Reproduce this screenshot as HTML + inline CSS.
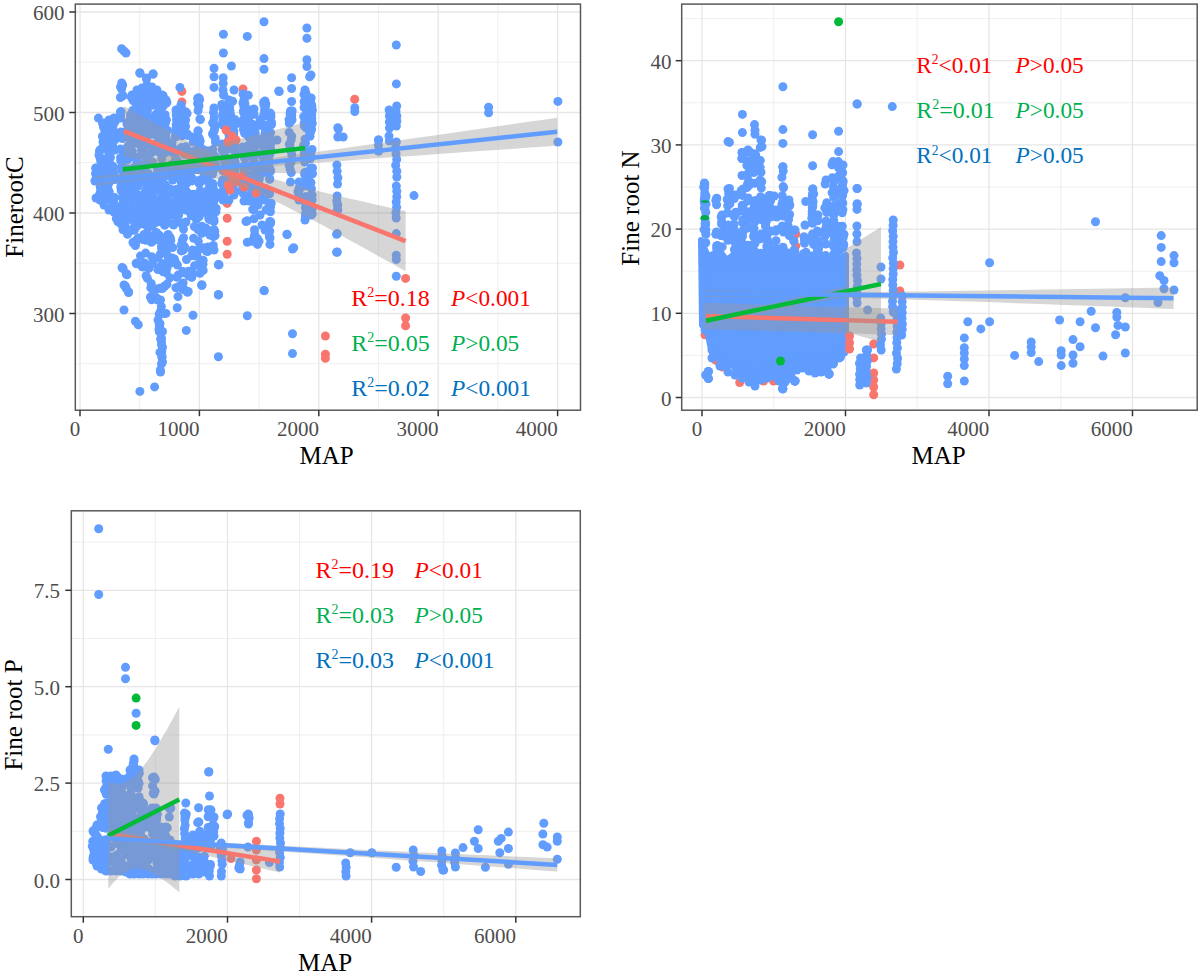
<!DOCTYPE html>
<html><head><meta charset="utf-8"><style>
html,body{margin:0;padding:0;background:#fff;}
svg{display:block;}
.tl{font-family:"Liberation Serif",serif;font-size:21px;fill:#4D4D4D;}
.at{font-family:"Liberation Serif",serif;font-size:25px;fill:#000;}
.an{font-family:"Liberation Serif",serif;font-size:24px;}
</style></head><body>
<svg width="1200" height="973" viewBox="0 0 1200 973">
<rect width="1200" height="973" fill="#fff"/>
<rect x="75.3" y="4.1" width="505.2" height="406.1" fill="#fff"/>
<line x1="139.7" y1="4.1" x2="139.7" y2="410.2" stroke="#EBEBEB" stroke-width="0.8"/>
<line x1="259.1" y1="4.1" x2="259.1" y2="410.2" stroke="#EBEBEB" stroke-width="0.8"/>
<line x1="378.5" y1="4.1" x2="378.5" y2="410.2" stroke="#EBEBEB" stroke-width="0.8"/>
<line x1="497.9" y1="4.1" x2="497.9" y2="410.2" stroke="#EBEBEB" stroke-width="0.8"/>
<line x1="75.3" y1="363.7" x2="580.5" y2="363.7" stroke="#EBEBEB" stroke-width="0.8"/>
<line x1="75.3" y1="263.2" x2="580.5" y2="263.2" stroke="#EBEBEB" stroke-width="0.8"/>
<line x1="75.3" y1="162.7" x2="580.5" y2="162.7" stroke="#EBEBEB" stroke-width="0.8"/>
<line x1="75.3" y1="62.2" x2="580.5" y2="62.2" stroke="#EBEBEB" stroke-width="0.8"/>
<line x1="80" y1="4.1" x2="80" y2="410.2" stroke="#E6E6E6" stroke-width="1.3"/>
<line x1="199.4" y1="4.1" x2="199.4" y2="410.2" stroke="#E6E6E6" stroke-width="1.3"/>
<line x1="318.8" y1="4.1" x2="318.8" y2="410.2" stroke="#E6E6E6" stroke-width="1.3"/>
<line x1="438.2" y1="4.1" x2="438.2" y2="410.2" stroke="#E6E6E6" stroke-width="1.3"/>
<line x1="557.6" y1="4.1" x2="557.6" y2="410.2" stroke="#E6E6E6" stroke-width="1.3"/>
<line x1="75.3" y1="313.5" x2="580.5" y2="313.5" stroke="#E6E6E6" stroke-width="1.3"/>
<line x1="75.3" y1="213" x2="580.5" y2="213" stroke="#E6E6E6" stroke-width="1.3"/>
<line x1="75.3" y1="112.5" x2="580.5" y2="112.5" stroke="#E6E6E6" stroke-width="1.3"/>
<line x1="75.3" y1="12" x2="580.5" y2="12" stroke="#E6E6E6" stroke-width="1.3"/>
<g fill="#F8766D"><circle cx="354.7" cy="99.2" r="4.5"/><circle cx="181.9" cy="91.4" r="4.5"/><circle cx="181.9" cy="102" r="4.5"/><circle cx="243" cy="89" r="4.5"/><circle cx="227.2" cy="203.4" r="4.5"/><circle cx="227.2" cy="218.2" r="4.5"/><circle cx="227.2" cy="241.2" r="4.5"/><circle cx="227.2" cy="254.2" r="4.5"/><circle cx="405.6" cy="278.4" r="4.5"/><circle cx="405.6" cy="318" r="4.5"/><circle cx="405.6" cy="325.7" r="4.5"/><circle cx="325.4" cy="336" r="4.5"/><circle cx="325.4" cy="354.3" r="4.5"/><circle cx="325.4" cy="358.2" r="4.5"/><circle cx="261" cy="194" r="4.5"/><circle cx="261" cy="200" r="4.5"/></g>
<g fill="#619CFF"><circle cx="96" cy="168" r="4.5"/><circle cx="96" cy="198" r="4.5"/><circle cx="95.7" cy="168.3" r="4.5"/><circle cx="97" cy="177" r="4.5"/><circle cx="95.6" cy="173.8" r="4.5"/><circle cx="96.2" cy="172.9" r="4.5"/><circle cx="94.9" cy="181" r="4.5"/><circle cx="96.2" cy="173.2" r="4.5"/><circle cx="96.2" cy="178.6" r="4.5"/><circle cx="97.4" cy="170.7" r="4.5"/><circle cx="100" cy="150" r="4.5"/><circle cx="100" cy="200" r="4.5"/><circle cx="101.4" cy="170.6" r="4.5"/><circle cx="100" cy="157.4" r="4.5"/><circle cx="100.7" cy="159.5" r="4.5"/><circle cx="99.5" cy="151.2" r="4.5"/><circle cx="99.5" cy="198.4" r="4.5"/><circle cx="101.4" cy="187.2" r="4.5"/><circle cx="98.5" cy="197" r="4.5"/><circle cx="101.1" cy="188.5" r="4.5"/><circle cx="99" cy="155" r="4.5"/><circle cx="99.7" cy="194.3" r="4.5"/><circle cx="100.2" cy="186.8" r="4.5"/><circle cx="99.2" cy="176.2" r="4.5"/><circle cx="100.6" cy="191.2" r="4.5"/><circle cx="100.9" cy="161.6" r="4.5"/><circle cx="104" cy="123" r="4.5"/><circle cx="104" cy="205" r="4.5"/><circle cx="105.1" cy="140.7" r="4.5"/><circle cx="104.9" cy="168.5" r="4.5"/><circle cx="103.1" cy="171.3" r="4.5"/><circle cx="104.1" cy="201.6" r="4.5"/><circle cx="102.6" cy="136.5" r="4.5"/><circle cx="105.4" cy="191.2" r="4.5"/><circle cx="103" cy="141.8" r="4.5"/><circle cx="104.1" cy="135.9" r="4.5"/><circle cx="103.5" cy="127" r="4.5"/><circle cx="104.6" cy="129.4" r="4.5"/><circle cx="105.5" cy="198.5" r="4.5"/><circle cx="104.9" cy="186.3" r="4.5"/><circle cx="103.6" cy="178.7" r="4.5"/><circle cx="104.8" cy="162.4" r="4.5"/><circle cx="102.7" cy="174.3" r="4.5"/><circle cx="103.5" cy="173" r="4.5"/><circle cx="103.8" cy="201.1" r="4.5"/><circle cx="103.1" cy="186" r="4.5"/><circle cx="104.6" cy="168.6" r="4.5"/><circle cx="102.7" cy="136.5" r="4.5"/><circle cx="105.4" cy="141.9" r="4.5"/><circle cx="103" cy="146.6" r="4.5"/><circle cx="104.1" cy="165.6" r="4.5"/><circle cx="102.5" cy="123.3" r="4.5"/><circle cx="109" cy="120" r="4.5"/><circle cx="109" cy="210" r="4.5"/><circle cx="109" cy="136.6" r="4.5"/><circle cx="109.3" cy="191.9" r="4.5"/><circle cx="107.8" cy="165.5" r="4.5"/><circle cx="108.7" cy="191.1" r="4.5"/><circle cx="110.4" cy="157.5" r="4.5"/><circle cx="108.2" cy="199.1" r="4.5"/><circle cx="107.6" cy="149.7" r="4.5"/><circle cx="108.7" cy="136" r="4.5"/><circle cx="109.5" cy="166.6" r="4.5"/><circle cx="108.2" cy="157.2" r="4.5"/><circle cx="109.6" cy="149.2" r="4.5"/><circle cx="107.7" cy="161.4" r="4.5"/><circle cx="108.1" cy="175.9" r="4.5"/><circle cx="108.1" cy="132.2" r="4.5"/><circle cx="110.2" cy="149.7" r="4.5"/><circle cx="108.4" cy="168.4" r="4.5"/><circle cx="109.6" cy="180.4" r="4.5"/><circle cx="109.9" cy="143.4" r="4.5"/><circle cx="108.8" cy="152.8" r="4.5"/><circle cx="109.1" cy="171.7" r="4.5"/><circle cx="109.4" cy="126.1" r="4.5"/><circle cx="108.6" cy="183.8" r="4.5"/><circle cx="107.6" cy="187.2" r="4.5"/><circle cx="109.6" cy="156.2" r="4.5"/><circle cx="108.8" cy="143.8" r="4.5"/><circle cx="109.7" cy="163.2" r="4.5"/><circle cx="114" cy="118" r="4.5"/><circle cx="114" cy="212" r="4.5"/><circle cx="113.3" cy="120.8" r="4.5"/><circle cx="113.5" cy="204.6" r="4.5"/><circle cx="114.5" cy="176.8" r="4.5"/><circle cx="115.3" cy="120.9" r="4.5"/><circle cx="114.3" cy="135.7" r="4.5"/><circle cx="113.7" cy="135.1" r="4.5"/><circle cx="113.5" cy="202.7" r="4.5"/><circle cx="114.7" cy="197.6" r="4.5"/><circle cx="112.7" cy="146.3" r="4.5"/><circle cx="114.9" cy="121.8" r="4.5"/><circle cx="113.1" cy="125.7" r="4.5"/><circle cx="115" cy="139.8" r="4.5"/><circle cx="113.8" cy="119.3" r="4.5"/><circle cx="112.8" cy="166.3" r="4.5"/><circle cx="114.9" cy="150.1" r="4.5"/><circle cx="113.5" cy="121.8" r="4.5"/><circle cx="112.8" cy="132" r="4.5"/><circle cx="113.1" cy="171.6" r="4.5"/><circle cx="113.6" cy="209.9" r="4.5"/><circle cx="113.4" cy="198.5" r="4.5"/><circle cx="112.8" cy="167.6" r="4.5"/><circle cx="114.1" cy="179.8" r="4.5"/><circle cx="113.7" cy="167.3" r="4.5"/><circle cx="114.8" cy="132.3" r="4.5"/><circle cx="114.1" cy="173.3" r="4.5"/><circle cx="114.8" cy="133.4" r="4.5"/><circle cx="113.7" cy="120.3" r="4.5"/><circle cx="121.7" cy="83" r="4.5"/><circle cx="121.7" cy="215" r="4.5"/><circle cx="122.2" cy="197.6" r="4.5"/><circle cx="121.3" cy="190.7" r="4.5"/><circle cx="122.2" cy="85.2" r="4.5"/><circle cx="121.6" cy="89" r="4.5"/><circle cx="121.1" cy="188.7" r="4.5"/><circle cx="120.6" cy="157.6" r="4.5"/><circle cx="120.4" cy="97.5" r="4.5"/><circle cx="123.1" cy="95.7" r="4.5"/><circle cx="120.7" cy="207.1" r="4.5"/><circle cx="121.1" cy="111.6" r="4.5"/><circle cx="120.5" cy="148.9" r="4.5"/><circle cx="120.4" cy="112" r="4.5"/><circle cx="120.9" cy="181.4" r="4.5"/><circle cx="120.7" cy="160.6" r="4.5"/><circle cx="120.9" cy="214.2" r="4.5"/><circle cx="123.2" cy="204.9" r="4.5"/><circle cx="122.9" cy="156.1" r="4.5"/><circle cx="123" cy="167.5" r="4.5"/><circle cx="120.7" cy="179.7" r="4.5"/><circle cx="122.7" cy="84.9" r="4.5"/><circle cx="120.8" cy="186.5" r="4.5"/><circle cx="122.5" cy="157" r="4.5"/><circle cx="120.6" cy="118" r="4.5"/><circle cx="120.9" cy="212.4" r="4.5"/><circle cx="120.9" cy="131.9" r="4.5"/><circle cx="122.3" cy="170.5" r="4.5"/><circle cx="121.9" cy="168.9" r="4.5"/><circle cx="122.8" cy="203.6" r="4.5"/><circle cx="120.5" cy="87" r="4.5"/><circle cx="122.9" cy="203.2" r="4.5"/><circle cx="121.3" cy="135.8" r="4.5"/><circle cx="122.3" cy="138.6" r="4.5"/><circle cx="120.5" cy="115.9" r="4.5"/><circle cx="121.1" cy="157.7" r="4.5"/><circle cx="120.7" cy="179.2" r="4.5"/><circle cx="123.1" cy="133.8" r="4.5"/><circle cx="121.9" cy="167" r="4.5"/><circle cx="122.6" cy="166" r="4.5"/><circle cx="121.7" cy="178.1" r="4.5"/><circle cx="127" cy="123" r="4.5"/><circle cx="127" cy="215" r="4.5"/><circle cx="125.6" cy="209.5" r="4.5"/><circle cx="128.2" cy="186.8" r="4.5"/><circle cx="126.1" cy="180.6" r="4.5"/><circle cx="125.6" cy="159.6" r="4.5"/><circle cx="126.1" cy="174.6" r="4.5"/><circle cx="126.3" cy="131.5" r="4.5"/><circle cx="127.9" cy="146.1" r="4.5"/><circle cx="127.2" cy="124.5" r="4.5"/><circle cx="127.2" cy="195.6" r="4.5"/><circle cx="127.9" cy="153.2" r="4.5"/><circle cx="125.9" cy="179.1" r="4.5"/><circle cx="126.4" cy="149.3" r="4.5"/><circle cx="126.1" cy="159.2" r="4.5"/><circle cx="127.5" cy="159.9" r="4.5"/><circle cx="127.4" cy="190" r="4.5"/><circle cx="127.9" cy="175.5" r="4.5"/><circle cx="128.5" cy="169.2" r="4.5"/><circle cx="127.1" cy="183.6" r="4.5"/><circle cx="128.4" cy="187.6" r="4.5"/><circle cx="128.3" cy="137.6" r="4.5"/><circle cx="126.8" cy="187.7" r="4.5"/><circle cx="127.7" cy="199.4" r="4.5"/><circle cx="126.3" cy="152" r="4.5"/><circle cx="126.7" cy="159.1" r="4.5"/><circle cx="125.8" cy="158.9" r="4.5"/><circle cx="127.4" cy="191" r="4.5"/><circle cx="126.2" cy="180.1" r="4.5"/><circle cx="132" cy="95" r="4.5"/><circle cx="132" cy="218" r="4.5"/><circle cx="132.8" cy="114.1" r="4.5"/><circle cx="130.5" cy="114.7" r="4.5"/><circle cx="132.5" cy="207.3" r="4.5"/><circle cx="131.7" cy="133.4" r="4.5"/><circle cx="132.4" cy="133.9" r="4.5"/><circle cx="130.6" cy="125.2" r="4.5"/><circle cx="132.3" cy="151.3" r="4.5"/><circle cx="131.5" cy="143.2" r="4.5"/><circle cx="130.9" cy="189.4" r="4.5"/><circle cx="131.6" cy="179.9" r="4.5"/><circle cx="132.2" cy="205.7" r="4.5"/><circle cx="132.9" cy="111.3" r="4.5"/><circle cx="131.9" cy="96.4" r="4.5"/><circle cx="132.8" cy="123.4" r="4.5"/><circle cx="133.4" cy="122.7" r="4.5"/><circle cx="132" cy="155.5" r="4.5"/><circle cx="133" cy="168.2" r="4.5"/><circle cx="133.1" cy="134.3" r="4.5"/><circle cx="130.8" cy="117.8" r="4.5"/><circle cx="130.6" cy="182" r="4.5"/><circle cx="132.6" cy="187.8" r="4.5"/><circle cx="132.8" cy="110.4" r="4.5"/><circle cx="130.7" cy="176.1" r="4.5"/><circle cx="130.5" cy="136.5" r="4.5"/><circle cx="132.3" cy="175.2" r="4.5"/><circle cx="132.3" cy="211.8" r="4.5"/><circle cx="133.4" cy="133.2" r="4.5"/><circle cx="131.4" cy="97.6" r="4.5"/><circle cx="130.9" cy="148.9" r="4.5"/><circle cx="132.4" cy="124" r="4.5"/><circle cx="130.8" cy="179.2" r="4.5"/><circle cx="132.5" cy="156.5" r="4.5"/><circle cx="130.9" cy="119.2" r="4.5"/><circle cx="131.3" cy="199.9" r="4.5"/><circle cx="133.3" cy="100.8" r="4.5"/><circle cx="133.3" cy="207.3" r="4.5"/><circle cx="137" cy="90" r="4.5"/><circle cx="137" cy="220" r="4.5"/><circle cx="137.9" cy="120.3" r="4.5"/><circle cx="138.4" cy="195.1" r="4.5"/><circle cx="135.9" cy="94.7" r="4.5"/><circle cx="136.6" cy="165.3" r="4.5"/><circle cx="135.6" cy="214.1" r="4.5"/><circle cx="137.5" cy="157.2" r="4.5"/><circle cx="137" cy="103.6" r="4.5"/><circle cx="137.7" cy="186.4" r="4.5"/><circle cx="135.6" cy="194.9" r="4.5"/><circle cx="136.6" cy="211.3" r="4.5"/><circle cx="136.5" cy="117.5" r="4.5"/><circle cx="136.1" cy="133.1" r="4.5"/><circle cx="135.7" cy="111.1" r="4.5"/><circle cx="136.9" cy="161.8" r="4.5"/><circle cx="137.2" cy="107.2" r="4.5"/><circle cx="135.6" cy="109.1" r="4.5"/><circle cx="138.2" cy="107.7" r="4.5"/><circle cx="137.6" cy="162.2" r="4.5"/><circle cx="137.3" cy="211.8" r="4.5"/><circle cx="136.3" cy="181.3" r="4.5"/><circle cx="137.1" cy="137.9" r="4.5"/><circle cx="136.7" cy="116.3" r="4.5"/><circle cx="135.8" cy="209.8" r="4.5"/><circle cx="137.4" cy="112.1" r="4.5"/><circle cx="137.9" cy="114" r="4.5"/><circle cx="137.5" cy="166.3" r="4.5"/><circle cx="137.9" cy="143.6" r="4.5"/><circle cx="138.4" cy="183.5" r="4.5"/><circle cx="136.8" cy="105.7" r="4.5"/><circle cx="136.3" cy="107.2" r="4.5"/><circle cx="137.1" cy="194.8" r="4.5"/><circle cx="137.7" cy="172.8" r="4.5"/><circle cx="136.8" cy="126.2" r="4.5"/><circle cx="137.9" cy="177.3" r="4.5"/><circle cx="137.5" cy="162.6" r="4.5"/><circle cx="137.9" cy="166.6" r="4.5"/><circle cx="136.3" cy="138.6" r="4.5"/><circle cx="136.4" cy="127.9" r="4.5"/><circle cx="142" cy="88" r="4.5"/><circle cx="142" cy="220" r="4.5"/><circle cx="143.2" cy="181.9" r="4.5"/><circle cx="142.3" cy="147.5" r="4.5"/><circle cx="142" cy="101.9" r="4.5"/><circle cx="141.9" cy="165.6" r="4.5"/><circle cx="141.6" cy="155" r="4.5"/><circle cx="143.5" cy="208.5" r="4.5"/><circle cx="140.7" cy="212.9" r="4.5"/><circle cx="142.9" cy="195.2" r="4.5"/><circle cx="142.9" cy="115.5" r="4.5"/><circle cx="140.9" cy="172.7" r="4.5"/><circle cx="143" cy="101.5" r="4.5"/><circle cx="140.5" cy="213" r="4.5"/><circle cx="143.2" cy="122.5" r="4.5"/><circle cx="143" cy="127.4" r="4.5"/><circle cx="143" cy="89.7" r="4.5"/><circle cx="142.3" cy="117.7" r="4.5"/><circle cx="142.4" cy="91.3" r="4.5"/><circle cx="142.4" cy="101.2" r="4.5"/><circle cx="141.8" cy="97.2" r="4.5"/><circle cx="141.7" cy="108.6" r="4.5"/><circle cx="141.5" cy="150" r="4.5"/><circle cx="142.5" cy="171.6" r="4.5"/><circle cx="142.1" cy="200.6" r="4.5"/><circle cx="141.7" cy="107" r="4.5"/><circle cx="142.6" cy="135.1" r="4.5"/><circle cx="143.3" cy="139.5" r="4.5"/><circle cx="140.5" cy="133.4" r="4.5"/><circle cx="143.4" cy="151.1" r="4.5"/><circle cx="143" cy="136.6" r="4.5"/><circle cx="142.3" cy="98" r="4.5"/><circle cx="141.1" cy="101.7" r="4.5"/><circle cx="141.7" cy="130.7" r="4.5"/><circle cx="142.2" cy="173.6" r="4.5"/><circle cx="141.2" cy="123.4" r="4.5"/><circle cx="140.6" cy="104.1" r="4.5"/><circle cx="141.6" cy="206.7" r="4.5"/><circle cx="141.1" cy="141.8" r="4.5"/><circle cx="140.5" cy="165.7" r="4.5"/><circle cx="141.8" cy="131.7" r="4.5"/><circle cx="147" cy="85" r="4.5"/><circle cx="147" cy="222" r="4.5"/><circle cx="146.7" cy="122.4" r="4.5"/><circle cx="146.7" cy="110.3" r="4.5"/><circle cx="147.6" cy="212.8" r="4.5"/><circle cx="148.2" cy="135.2" r="4.5"/><circle cx="145.5" cy="190.3" r="4.5"/><circle cx="146.9" cy="159.7" r="4.5"/><circle cx="147.5" cy="196.2" r="4.5"/><circle cx="147.1" cy="144.5" r="4.5"/><circle cx="145.9" cy="90.7" r="4.5"/><circle cx="146" cy="106.2" r="4.5"/><circle cx="148.3" cy="162.7" r="4.5"/><circle cx="145.6" cy="128.6" r="4.5"/><circle cx="146.7" cy="199.3" r="4.5"/><circle cx="146.7" cy="159.9" r="4.5"/><circle cx="146.3" cy="129.3" r="4.5"/><circle cx="145.7" cy="192.3" r="4.5"/><circle cx="147" cy="185.2" r="4.5"/><circle cx="147.2" cy="97.2" r="4.5"/><circle cx="146.3" cy="128.9" r="4.5"/><circle cx="147.8" cy="132.5" r="4.5"/><circle cx="148.4" cy="194.1" r="4.5"/><circle cx="147.6" cy="157.8" r="4.5"/><circle cx="147.6" cy="131.4" r="4.5"/><circle cx="145.8" cy="202.6" r="4.5"/><circle cx="146.9" cy="216.3" r="4.5"/><circle cx="147.7" cy="163.7" r="4.5"/><circle cx="146.8" cy="179" r="4.5"/><circle cx="146.2" cy="133.4" r="4.5"/><circle cx="146.5" cy="197.1" r="4.5"/><circle cx="148.3" cy="98.3" r="4.5"/><circle cx="145.6" cy="133.3" r="4.5"/><circle cx="147.5" cy="145" r="4.5"/><circle cx="147.8" cy="217.6" r="4.5"/><circle cx="147.5" cy="176.3" r="4.5"/><circle cx="145.9" cy="165.2" r="4.5"/><circle cx="147.4" cy="111.7" r="4.5"/><circle cx="145.6" cy="177.9" r="4.5"/><circle cx="148.5" cy="173.6" r="4.5"/><circle cx="146.1" cy="204.2" r="4.5"/><circle cx="146.5" cy="131.8" r="4.5"/><circle cx="152" cy="87" r="4.5"/><circle cx="152" cy="222" r="4.5"/><circle cx="152.9" cy="194.2" r="4.5"/><circle cx="153.3" cy="206.4" r="4.5"/><circle cx="150.5" cy="117.9" r="4.5"/><circle cx="152.2" cy="118.3" r="4.5"/><circle cx="153.1" cy="186.4" r="4.5"/><circle cx="152.8" cy="214.4" r="4.5"/><circle cx="152.6" cy="217.1" r="4.5"/><circle cx="151.9" cy="105.3" r="4.5"/><circle cx="152" cy="215.1" r="4.5"/><circle cx="152.3" cy="130.5" r="4.5"/><circle cx="150.8" cy="105.1" r="4.5"/><circle cx="150.9" cy="182.9" r="4.5"/><circle cx="151.5" cy="145.7" r="4.5"/><circle cx="153.4" cy="131.8" r="4.5"/><circle cx="152.5" cy="134.1" r="4.5"/><circle cx="151.7" cy="144.6" r="4.5"/><circle cx="151.8" cy="102.8" r="4.5"/><circle cx="152.4" cy="162.1" r="4.5"/><circle cx="150.8" cy="218.5" r="4.5"/><circle cx="153.5" cy="124.1" r="4.5"/><circle cx="151.5" cy="192.4" r="4.5"/><circle cx="152" cy="163.5" r="4.5"/><circle cx="152.8" cy="188.5" r="4.5"/><circle cx="151.3" cy="152.8" r="4.5"/><circle cx="152.9" cy="206.2" r="4.5"/><circle cx="153.1" cy="195" r="4.5"/><circle cx="152.5" cy="90.5" r="4.5"/><circle cx="151.6" cy="182.7" r="4.5"/><circle cx="151.2" cy="95.5" r="4.5"/><circle cx="152.3" cy="190.7" r="4.5"/><circle cx="153.5" cy="185.3" r="4.5"/><circle cx="151.8" cy="91.3" r="4.5"/><circle cx="152.5" cy="207.5" r="4.5"/><circle cx="152.1" cy="163" r="4.5"/><circle cx="150.8" cy="130.3" r="4.5"/><circle cx="152.3" cy="195.4" r="4.5"/><circle cx="151.5" cy="199.3" r="4.5"/><circle cx="152.3" cy="161.9" r="4.5"/><circle cx="151.1" cy="180.8" r="4.5"/><circle cx="157" cy="90" r="4.5"/><circle cx="157" cy="222" r="4.5"/><circle cx="155.9" cy="145.5" r="4.5"/><circle cx="158.2" cy="204.6" r="4.5"/><circle cx="158.3" cy="115.6" r="4.5"/><circle cx="158.2" cy="151.9" r="4.5"/><circle cx="156" cy="208.3" r="4.5"/><circle cx="158.4" cy="218.5" r="4.5"/><circle cx="156.6" cy="119.7" r="4.5"/><circle cx="158.3" cy="184.1" r="4.5"/><circle cx="158.3" cy="186.3" r="4.5"/><circle cx="158.5" cy="186.4" r="4.5"/><circle cx="158" cy="211.8" r="4.5"/><circle cx="156.8" cy="211.4" r="4.5"/><circle cx="156.7" cy="216.9" r="4.5"/><circle cx="157.1" cy="174.6" r="4.5"/><circle cx="155.5" cy="134.8" r="4.5"/><circle cx="156.3" cy="91.6" r="4.5"/><circle cx="156.4" cy="123.9" r="4.5"/><circle cx="155.8" cy="123.7" r="4.5"/><circle cx="158.1" cy="118.4" r="4.5"/><circle cx="157.6" cy="220.9" r="4.5"/><circle cx="155.5" cy="183.9" r="4.5"/><circle cx="155.9" cy="114.4" r="4.5"/><circle cx="156.4" cy="211.2" r="4.5"/><circle cx="158.1" cy="102.1" r="4.5"/><circle cx="157.9" cy="101.2" r="4.5"/><circle cx="156.6" cy="222" r="4.5"/><circle cx="158.1" cy="104.5" r="4.5"/><circle cx="157.2" cy="145.5" r="4.5"/><circle cx="157.5" cy="203.3" r="4.5"/><circle cx="157.2" cy="213" r="4.5"/><circle cx="158.2" cy="111.6" r="4.5"/><circle cx="155.7" cy="116.1" r="4.5"/><circle cx="157" cy="181.7" r="4.5"/><circle cx="158.1" cy="186.5" r="4.5"/><circle cx="157.5" cy="169.3" r="4.5"/><circle cx="157.5" cy="142.8" r="4.5"/><circle cx="157.5" cy="200.4" r="4.5"/><circle cx="158.1" cy="184.9" r="4.5"/><circle cx="157.5" cy="99.5" r="4.5"/><circle cx="162" cy="95" r="4.5"/><circle cx="162" cy="222" r="4.5"/><circle cx="161.5" cy="152.9" r="4.5"/><circle cx="161.4" cy="120.2" r="4.5"/><circle cx="161.6" cy="200.9" r="4.5"/><circle cx="161.3" cy="213.8" r="4.5"/><circle cx="160.5" cy="148.6" r="4.5"/><circle cx="162.7" cy="190.9" r="4.5"/><circle cx="160.5" cy="109.6" r="4.5"/><circle cx="160.7" cy="166.8" r="4.5"/><circle cx="160.8" cy="145.3" r="4.5"/><circle cx="161.3" cy="108" r="4.5"/><circle cx="161.6" cy="150.3" r="4.5"/><circle cx="162.2" cy="138.8" r="4.5"/><circle cx="160.7" cy="136.8" r="4.5"/><circle cx="162.6" cy="95.5" r="4.5"/><circle cx="162.1" cy="97.5" r="4.5"/><circle cx="163.1" cy="120" r="4.5"/><circle cx="162.1" cy="106.6" r="4.5"/><circle cx="162.1" cy="195.7" r="4.5"/><circle cx="163.2" cy="195.3" r="4.5"/><circle cx="163.2" cy="96" r="4.5"/><circle cx="162.9" cy="101.2" r="4.5"/><circle cx="163.1" cy="221.5" r="4.5"/><circle cx="162.7" cy="172" r="4.5"/><circle cx="162.7" cy="106" r="4.5"/><circle cx="163.1" cy="106.1" r="4.5"/><circle cx="161.2" cy="129.3" r="4.5"/><circle cx="162.6" cy="145" r="4.5"/><circle cx="161.7" cy="158.8" r="4.5"/><circle cx="162.8" cy="201.7" r="4.5"/><circle cx="163" cy="131" r="4.5"/><circle cx="160.7" cy="107" r="4.5"/><circle cx="160.8" cy="189.7" r="4.5"/><circle cx="160.8" cy="191.1" r="4.5"/><circle cx="160.5" cy="182.2" r="4.5"/><circle cx="161.2" cy="176.9" r="4.5"/><circle cx="162.8" cy="178.1" r="4.5"/><circle cx="160.7" cy="97.6" r="4.5"/><circle cx="166" cy="100" r="4.5"/><circle cx="166" cy="220" r="4.5"/><circle cx="165.6" cy="208.8" r="4.5"/><circle cx="165.9" cy="131.5" r="4.5"/><circle cx="165.9" cy="198.5" r="4.5"/><circle cx="165.1" cy="114.8" r="4.5"/><circle cx="167.3" cy="150.9" r="4.5"/><circle cx="165.8" cy="137.3" r="4.5"/><circle cx="165.2" cy="203.4" r="4.5"/><circle cx="166.9" cy="130.5" r="4.5"/><circle cx="166.7" cy="210.3" r="4.5"/><circle cx="165.8" cy="217.7" r="4.5"/><circle cx="164.8" cy="200.5" r="4.5"/><circle cx="167.1" cy="130.3" r="4.5"/><circle cx="165.3" cy="132.6" r="4.5"/><circle cx="164.9" cy="197.3" r="4.5"/><circle cx="166.6" cy="194.6" r="4.5"/><circle cx="166.4" cy="131.4" r="4.5"/><circle cx="164.8" cy="131" r="4.5"/><circle cx="166.9" cy="102.4" r="4.5"/><circle cx="166.1" cy="138.6" r="4.5"/><circle cx="165.4" cy="140.2" r="4.5"/><circle cx="166.3" cy="120.3" r="4.5"/><circle cx="165" cy="201.9" r="4.5"/><circle cx="166.8" cy="143.2" r="4.5"/><circle cx="165.2" cy="170.1" r="4.5"/><circle cx="167.3" cy="194.6" r="4.5"/><circle cx="165.8" cy="176.1" r="4.5"/><circle cx="165.6" cy="185.1" r="4.5"/><circle cx="166.1" cy="103.3" r="4.5"/><circle cx="166.5" cy="204.6" r="4.5"/><circle cx="166" cy="119.2" r="4.5"/><circle cx="165.4" cy="123.1" r="4.5"/><circle cx="167" cy="188.3" r="4.5"/><circle cx="165.4" cy="136.3" r="4.5"/><circle cx="164.9" cy="152.8" r="4.5"/><circle cx="167.4" cy="190.8" r="4.5"/><circle cx="172" cy="143" r="4.5"/><circle cx="172" cy="215" r="4.5"/><circle cx="173.3" cy="148.4" r="4.5"/><circle cx="173.3" cy="208.7" r="4.5"/><circle cx="172.9" cy="152.2" r="4.5"/><circle cx="173.1" cy="213.4" r="4.5"/><circle cx="172.7" cy="180" r="4.5"/><circle cx="171.5" cy="206.2" r="4.5"/><circle cx="172.3" cy="166.3" r="4.5"/><circle cx="170.7" cy="144.3" r="4.5"/><circle cx="172.6" cy="164.3" r="4.5"/><circle cx="170.9" cy="165.1" r="4.5"/><circle cx="171.9" cy="204" r="4.5"/><circle cx="171.9" cy="152.3" r="4.5"/><circle cx="173" cy="191.6" r="4.5"/><circle cx="172.1" cy="207.7" r="4.5"/><circle cx="171.7" cy="170.9" r="4.5"/><circle cx="170.7" cy="193.1" r="4.5"/><circle cx="172.4" cy="211.2" r="4.5"/><circle cx="170.5" cy="172.7" r="4.5"/><circle cx="171.8" cy="172.9" r="4.5"/><circle cx="170.6" cy="201.7" r="4.5"/><circle cx="170.6" cy="189.1" r="4.5"/><circle cx="176" cy="110" r="4.5"/><circle cx="176" cy="210" r="4.5"/><circle cx="175.4" cy="152.5" r="4.5"/><circle cx="177" cy="130.4" r="4.5"/><circle cx="176" cy="136.7" r="4.5"/><circle cx="176.3" cy="164.4" r="4.5"/><circle cx="176.5" cy="119.5" r="4.5"/><circle cx="176.4" cy="176.2" r="4.5"/><circle cx="174.7" cy="206.9" r="4.5"/><circle cx="177.1" cy="189.3" r="4.5"/><circle cx="176.9" cy="160" r="4.5"/><circle cx="177.2" cy="125.5" r="4.5"/><circle cx="176.7" cy="207.7" r="4.5"/><circle cx="174.7" cy="174.9" r="4.5"/><circle cx="177.4" cy="124.2" r="4.5"/><circle cx="176.2" cy="199.8" r="4.5"/><circle cx="175.3" cy="131" r="4.5"/><circle cx="176.7" cy="189.4" r="4.5"/><circle cx="177.3" cy="175.3" r="4.5"/><circle cx="174.7" cy="192.1" r="4.5"/><circle cx="175.4" cy="166.4" r="4.5"/><circle cx="176.7" cy="207.8" r="4.5"/><circle cx="176.2" cy="124.5" r="4.5"/><circle cx="176" cy="165.5" r="4.5"/><circle cx="176.8" cy="129.1" r="4.5"/><circle cx="176.2" cy="115" r="4.5"/><circle cx="177.5" cy="112.3" r="4.5"/><circle cx="176.1" cy="127.5" r="4.5"/><circle cx="175.3" cy="150.2" r="4.5"/><circle cx="175.3" cy="136.1" r="4.5"/><circle cx="175.4" cy="159.9" r="4.5"/><circle cx="181" cy="105" r="4.5"/><circle cx="181" cy="210" r="4.5"/><circle cx="182.4" cy="127" r="4.5"/><circle cx="180" cy="109.5" r="4.5"/><circle cx="182.2" cy="187.2" r="4.5"/><circle cx="182" cy="120.7" r="4.5"/><circle cx="180.8" cy="175.5" r="4.5"/><circle cx="181.1" cy="181.9" r="4.5"/><circle cx="180.1" cy="199.8" r="4.5"/><circle cx="181.3" cy="169.2" r="4.5"/><circle cx="181.3" cy="151.5" r="4.5"/><circle cx="179.5" cy="122.2" r="4.5"/><circle cx="180.9" cy="113.6" r="4.5"/><circle cx="181.3" cy="125" r="4.5"/><circle cx="181.6" cy="147.5" r="4.5"/><circle cx="181.5" cy="132.5" r="4.5"/><circle cx="179.9" cy="174.8" r="4.5"/><circle cx="182" cy="127.2" r="4.5"/><circle cx="179.6" cy="196.2" r="4.5"/><circle cx="181.8" cy="185.5" r="4.5"/><circle cx="181.9" cy="148.8" r="4.5"/><circle cx="182.4" cy="189.8" r="4.5"/><circle cx="181.8" cy="203.8" r="4.5"/><circle cx="182.2" cy="164.3" r="4.5"/><circle cx="179.7" cy="167" r="4.5"/><circle cx="181" cy="106.8" r="4.5"/><circle cx="180.4" cy="191.1" r="4.5"/><circle cx="181.4" cy="202.7" r="4.5"/><circle cx="181.8" cy="124.5" r="4.5"/><circle cx="181.6" cy="109.9" r="4.5"/><circle cx="182.1" cy="135.9" r="4.5"/><circle cx="182.4" cy="110" r="4.5"/><circle cx="181.7" cy="115.6" r="4.5"/><circle cx="186" cy="112" r="4.5"/><circle cx="186" cy="210" r="4.5"/><circle cx="187.1" cy="192.1" r="4.5"/><circle cx="186" cy="167.2" r="4.5"/><circle cx="185.2" cy="147.7" r="4.5"/><circle cx="184.9" cy="150.6" r="4.5"/><circle cx="184.9" cy="174.1" r="4.5"/><circle cx="186" cy="146.8" r="4.5"/><circle cx="185.5" cy="205.3" r="4.5"/><circle cx="187.3" cy="208" r="4.5"/><circle cx="185.6" cy="120" r="4.5"/><circle cx="185" cy="196.3" r="4.5"/><circle cx="185.6" cy="126.4" r="4.5"/><circle cx="187.4" cy="133.9" r="4.5"/><circle cx="186.2" cy="152.5" r="4.5"/><circle cx="184.9" cy="148.5" r="4.5"/><circle cx="186.9" cy="165.2" r="4.5"/><circle cx="187.1" cy="113.6" r="4.5"/><circle cx="184.8" cy="154.3" r="4.5"/><circle cx="186.4" cy="152.3" r="4.5"/><circle cx="185.3" cy="191.8" r="4.5"/><circle cx="187.1" cy="175.6" r="4.5"/><circle cx="184.9" cy="184.6" r="4.5"/><circle cx="186.3" cy="184" r="4.5"/><circle cx="186.7" cy="167.2" r="4.5"/><circle cx="185.7" cy="194.1" r="4.5"/><circle cx="187.3" cy="205.2" r="4.5"/><circle cx="185.4" cy="132.7" r="4.5"/><circle cx="185.1" cy="178.7" r="4.5"/><circle cx="187.4" cy="135.4" r="4.5"/><circle cx="192" cy="137" r="4.5"/><circle cx="192" cy="212" r="4.5"/><circle cx="191.8" cy="177.9" r="4.5"/><circle cx="191.7" cy="178.1" r="4.5"/><circle cx="191.6" cy="181" r="4.5"/><circle cx="193.4" cy="194.3" r="4.5"/><circle cx="193.4" cy="168.6" r="4.5"/><circle cx="190.9" cy="152.2" r="4.5"/><circle cx="191.2" cy="194.7" r="4.5"/><circle cx="191.2" cy="179.1" r="4.5"/><circle cx="193.3" cy="168.6" r="4.5"/><circle cx="191.2" cy="203.6" r="4.5"/><circle cx="193.4" cy="142.1" r="4.5"/><circle cx="193" cy="210.1" r="4.5"/><circle cx="191.4" cy="163.9" r="4.5"/><circle cx="191.1" cy="153.3" r="4.5"/><circle cx="192.8" cy="170.1" r="4.5"/><circle cx="191.4" cy="164.3" r="4.5"/><circle cx="193.2" cy="211.8" r="4.5"/><circle cx="191.5" cy="157" r="4.5"/><circle cx="191.3" cy="195.8" r="4.5"/><circle cx="193.2" cy="151.5" r="4.5"/><circle cx="190.8" cy="162" r="4.5"/><circle cx="193" cy="200.6" r="4.5"/><circle cx="199" cy="98" r="4.5"/><circle cx="199" cy="215" r="4.5"/><circle cx="200.4" cy="147.2" r="4.5"/><circle cx="197.6" cy="103.4" r="4.5"/><circle cx="199.9" cy="141.8" r="4.5"/><circle cx="198" cy="131" r="4.5"/><circle cx="197.8" cy="205.2" r="4.5"/><circle cx="198.8" cy="157.1" r="4.5"/><circle cx="198.1" cy="159.2" r="4.5"/><circle cx="198.3" cy="207.9" r="4.5"/><circle cx="200.1" cy="182.1" r="4.5"/><circle cx="199.2" cy="183.5" r="4.5"/><circle cx="197.8" cy="140.3" r="4.5"/><circle cx="200.1" cy="190.6" r="4.5"/><circle cx="198.4" cy="143" r="4.5"/><circle cx="197.9" cy="98.1" r="4.5"/><circle cx="200.4" cy="119.6" r="4.5"/><circle cx="199.9" cy="118.9" r="4.5"/><circle cx="198.9" cy="161.7" r="4.5"/><circle cx="198.1" cy="130.9" r="4.5"/><circle cx="197.9" cy="98.4" r="4.5"/><circle cx="198.6" cy="196.2" r="4.5"/><circle cx="198.2" cy="148.6" r="4.5"/><circle cx="198.7" cy="158.3" r="4.5"/><circle cx="198.1" cy="103.5" r="4.5"/><circle cx="198.5" cy="212.6" r="4.5"/><circle cx="199.2" cy="150.9" r="4.5"/><circle cx="198.4" cy="181.9" r="4.5"/><circle cx="197.9" cy="169.8" r="4.5"/><circle cx="199" cy="106" r="4.5"/><circle cx="199" cy="137.6" r="4.5"/><circle cx="197.5" cy="150.6" r="4.5"/><circle cx="198.1" cy="110.5" r="4.5"/><circle cx="199.6" cy="162.8" r="4.5"/><circle cx="198.7" cy="180.4" r="4.5"/><circle cx="200.1" cy="140.8" r="4.5"/><circle cx="204" cy="150" r="4.5"/><circle cx="204" cy="212" r="4.5"/><circle cx="204.1" cy="205.2" r="4.5"/><circle cx="203.3" cy="178" r="4.5"/><circle cx="204" cy="172.4" r="4.5"/><circle cx="204.2" cy="198.8" r="4.5"/><circle cx="205.1" cy="175.6" r="4.5"/><circle cx="203.4" cy="197.6" r="4.5"/><circle cx="204.6" cy="167" r="4.5"/><circle cx="203.8" cy="165.3" r="4.5"/><circle cx="204.1" cy="162.9" r="4.5"/><circle cx="202.7" cy="166.4" r="4.5"/><circle cx="202.8" cy="168.6" r="4.5"/><circle cx="203.5" cy="169.3" r="4.5"/><circle cx="205.3" cy="197.4" r="4.5"/><circle cx="203.3" cy="206.1" r="4.5"/><circle cx="203.9" cy="150.9" r="4.5"/><circle cx="203.9" cy="155.2" r="4.5"/><circle cx="203.3" cy="209.6" r="4.5"/><circle cx="204.1" cy="211.1" r="4.5"/><circle cx="208" cy="151" r="4.5"/><circle cx="208" cy="215" r="4.5"/><circle cx="207.8" cy="172.3" r="4.5"/><circle cx="207.2" cy="166.8" r="4.5"/><circle cx="208.8" cy="188.8" r="4.5"/><circle cx="209.1" cy="181.7" r="4.5"/><circle cx="209.1" cy="208.6" r="4.5"/><circle cx="206.7" cy="193.8" r="4.5"/><circle cx="206.7" cy="173.6" r="4.5"/><circle cx="206.9" cy="191.5" r="4.5"/><circle cx="206.9" cy="156.6" r="4.5"/><circle cx="208.7" cy="194.4" r="4.5"/><circle cx="209" cy="209.2" r="4.5"/><circle cx="208.6" cy="204" r="4.5"/><circle cx="207.4" cy="180.3" r="4.5"/><circle cx="208.1" cy="176.5" r="4.5"/><circle cx="207.9" cy="181.8" r="4.5"/><circle cx="208.1" cy="153.5" r="4.5"/><circle cx="206.9" cy="200.4" r="4.5"/><circle cx="209.1" cy="164.3" r="4.5"/><circle cx="214" cy="108" r="4.5"/><circle cx="214" cy="221.5" r="4.5"/><circle cx="212.8" cy="134.5" r="4.5"/><circle cx="215.1" cy="158.3" r="4.5"/><circle cx="215.4" cy="164.3" r="4.5"/><circle cx="212.8" cy="194.8" r="4.5"/><circle cx="212.9" cy="187" r="4.5"/><circle cx="215.5" cy="192.5" r="4.5"/><circle cx="214.9" cy="156.3" r="4.5"/><circle cx="212.7" cy="133.6" r="4.5"/><circle cx="215.1" cy="197.5" r="4.5"/><circle cx="214.2" cy="130.9" r="4.5"/><circle cx="213.9" cy="200.9" r="4.5"/><circle cx="212.8" cy="210.5" r="4.5"/><circle cx="212.7" cy="189.9" r="4.5"/><circle cx="212.6" cy="205" r="4.5"/><circle cx="213.4" cy="170.6" r="4.5"/><circle cx="212.6" cy="183.7" r="4.5"/><circle cx="215.5" cy="142.3" r="4.5"/><circle cx="215" cy="125.2" r="4.5"/><circle cx="212.6" cy="183.7" r="4.5"/><circle cx="213.3" cy="189.1" r="4.5"/><circle cx="212.7" cy="123.1" r="4.5"/><circle cx="213.4" cy="166.9" r="4.5"/><circle cx="213.2" cy="122.3" r="4.5"/><circle cx="212.8" cy="149.6" r="4.5"/><circle cx="212.7" cy="169.5" r="4.5"/><circle cx="212.6" cy="167.1" r="4.5"/><circle cx="213.5" cy="112.5" r="4.5"/><circle cx="212.6" cy="174.1" r="4.5"/><circle cx="214.6" cy="128.4" r="4.5"/><circle cx="214.2" cy="117.7" r="4.5"/><circle cx="213.9" cy="200.7" r="4.5"/><circle cx="213.1" cy="160.7" r="4.5"/><circle cx="215.2" cy="138.4" r="4.5"/><circle cx="214" cy="229.7" r="4.5"/><circle cx="214" cy="250" r="4.5"/><circle cx="214.8" cy="231.3" r="4.5"/><circle cx="213.3" cy="245.5" r="4.5"/><circle cx="215.1" cy="235.6" r="4.5"/><circle cx="213.7" cy="236.4" r="4.5"/><circle cx="213.1" cy="236.4" r="4.5"/><circle cx="223" cy="90" r="4.5"/><circle cx="223" cy="200" r="4.5"/><circle cx="224" cy="153.2" r="4.5"/><circle cx="224" cy="152.8" r="4.5"/><circle cx="223.5" cy="151" r="4.5"/><circle cx="222.1" cy="144" r="4.5"/><circle cx="222.5" cy="115.2" r="4.5"/><circle cx="222.4" cy="191.2" r="4.5"/><circle cx="224.4" cy="196.5" r="4.5"/><circle cx="223.1" cy="120.3" r="4.5"/><circle cx="222.6" cy="122.6" r="4.5"/><circle cx="224.4" cy="185" r="4.5"/><circle cx="223.9" cy="147.2" r="4.5"/><circle cx="223" cy="170.9" r="4.5"/><circle cx="224.2" cy="168.8" r="4.5"/><circle cx="224.3" cy="156.3" r="4.5"/><circle cx="224" cy="156.7" r="4.5"/><circle cx="223.1" cy="180.3" r="4.5"/><circle cx="222.8" cy="182.8" r="4.5"/><circle cx="222.3" cy="197.2" r="4.5"/><circle cx="223.7" cy="111.5" r="4.5"/><circle cx="223.6" cy="121.8" r="4.5"/><circle cx="221.8" cy="104.5" r="4.5"/><circle cx="222.8" cy="194.3" r="4.5"/><circle cx="222.2" cy="149.7" r="4.5"/><circle cx="222.8" cy="108.7" r="4.5"/><circle cx="223.6" cy="123.5" r="4.5"/><circle cx="221.6" cy="183.5" r="4.5"/><circle cx="223.8" cy="95.1" r="4.5"/><circle cx="222.9" cy="125.1" r="4.5"/><circle cx="223.5" cy="124.5" r="4.5"/><circle cx="223.6" cy="95" r="4.5"/><circle cx="224.2" cy="161.2" r="4.5"/><circle cx="222.7" cy="180" r="4.5"/><circle cx="229" cy="100" r="4.5"/><circle cx="229" cy="200" r="4.5"/><circle cx="229.7" cy="131.3" r="4.5"/><circle cx="227.8" cy="163.9" r="4.5"/><circle cx="228.8" cy="186.7" r="4.5"/><circle cx="227.9" cy="183.1" r="4.5"/><circle cx="230" cy="120.5" r="4.5"/><circle cx="228.3" cy="161.4" r="4.5"/><circle cx="228.4" cy="148.7" r="4.5"/><circle cx="229.1" cy="139.3" r="4.5"/><circle cx="227.9" cy="128.4" r="4.5"/><circle cx="229.9" cy="179.9" r="4.5"/><circle cx="227.8" cy="169.3" r="4.5"/><circle cx="230.1" cy="161.1" r="4.5"/><circle cx="230.4" cy="158.9" r="4.5"/><circle cx="228.9" cy="140.1" r="4.5"/><circle cx="229.3" cy="166.1" r="4.5"/><circle cx="230.5" cy="115" r="4.5"/><circle cx="228.5" cy="189.4" r="4.5"/><circle cx="229.6" cy="130.8" r="4.5"/><circle cx="229.2" cy="106.3" r="4.5"/><circle cx="228" cy="103.9" r="4.5"/><circle cx="230" cy="113.6" r="4.5"/><circle cx="228.6" cy="132.9" r="4.5"/><circle cx="229.6" cy="107.3" r="4.5"/><circle cx="227.5" cy="117.2" r="4.5"/><circle cx="229.2" cy="135.4" r="4.5"/><circle cx="227.7" cy="128.6" r="4.5"/><circle cx="228.3" cy="172.7" r="4.5"/><circle cx="229.6" cy="102" r="4.5"/><circle cx="230" cy="110.7" r="4.5"/><circle cx="234" cy="90" r="4.5"/><circle cx="234" cy="195" r="4.5"/><circle cx="233.7" cy="134.5" r="4.5"/><circle cx="232.6" cy="101.3" r="4.5"/><circle cx="234.7" cy="162.3" r="4.5"/><circle cx="234.9" cy="191.7" r="4.5"/><circle cx="235.2" cy="121.6" r="4.5"/><circle cx="234.5" cy="159.2" r="4.5"/><circle cx="233.2" cy="169.8" r="4.5"/><circle cx="235.2" cy="152.1" r="4.5"/><circle cx="234.8" cy="119.5" r="4.5"/><circle cx="235" cy="124.7" r="4.5"/><circle cx="233.4" cy="149.2" r="4.5"/><circle cx="234.3" cy="138.9" r="4.5"/><circle cx="235" cy="169.2" r="4.5"/><circle cx="234.1" cy="182.8" r="4.5"/><circle cx="233.7" cy="130.9" r="4.5"/><circle cx="235.4" cy="123" r="4.5"/><circle cx="232.9" cy="179.8" r="4.5"/><circle cx="234.6" cy="123.7" r="4.5"/><circle cx="234.9" cy="161.2" r="4.5"/><circle cx="233.9" cy="145.6" r="4.5"/><circle cx="235.3" cy="146.7" r="4.5"/><circle cx="232.8" cy="136.1" r="4.5"/><circle cx="233.4" cy="190.7" r="4.5"/><circle cx="233.8" cy="132" r="4.5"/><circle cx="234.8" cy="170.4" r="4.5"/><circle cx="232.7" cy="161.4" r="4.5"/><circle cx="235.3" cy="151" r="4.5"/><circle cx="233.3" cy="187.9" r="4.5"/><circle cx="232.7" cy="141.4" r="4.5"/><circle cx="233.1" cy="148.2" r="4.5"/><circle cx="233.7" cy="182.5" r="4.5"/><circle cx="244" cy="100" r="4.5"/><circle cx="244" cy="201" r="4.5"/><circle cx="242.7" cy="147" r="4.5"/><circle cx="243.4" cy="111" r="4.5"/><circle cx="245" cy="165.6" r="4.5"/><circle cx="243.6" cy="153.7" r="4.5"/><circle cx="243.8" cy="106" r="4.5"/><circle cx="243.5" cy="103.4" r="4.5"/><circle cx="242.8" cy="185.8" r="4.5"/><circle cx="244.8" cy="129.9" r="4.5"/><circle cx="242.6" cy="189" r="4.5"/><circle cx="242.7" cy="124.6" r="4.5"/><circle cx="245" cy="158" r="4.5"/><circle cx="243.8" cy="178.9" r="4.5"/><circle cx="245.3" cy="158.3" r="4.5"/><circle cx="245.3" cy="107" r="4.5"/><circle cx="244.1" cy="169.3" r="4.5"/><circle cx="245" cy="148.1" r="4.5"/><circle cx="244.4" cy="129.2" r="4.5"/><circle cx="244.7" cy="158.4" r="4.5"/><circle cx="245.5" cy="153.3" r="4.5"/><circle cx="243.1" cy="180.1" r="4.5"/><circle cx="243.9" cy="113.2" r="4.5"/><circle cx="245.4" cy="150" r="4.5"/><circle cx="243" cy="120.3" r="4.5"/><circle cx="243.3" cy="193.6" r="4.5"/><circle cx="244.9" cy="103.5" r="4.5"/><circle cx="244.6" cy="133.2" r="4.5"/><circle cx="243.8" cy="175" r="4.5"/><circle cx="243.4" cy="129.5" r="4.5"/><circle cx="245.3" cy="179.6" r="4.5"/><circle cx="249" cy="110" r="4.5"/><circle cx="249" cy="201" r="4.5"/><circle cx="250" cy="177.6" r="4.5"/><circle cx="250.4" cy="178.7" r="4.5"/><circle cx="249.7" cy="136.5" r="4.5"/><circle cx="249.6" cy="195.3" r="4.5"/><circle cx="249.2" cy="175.3" r="4.5"/><circle cx="248" cy="152.3" r="4.5"/><circle cx="249.1" cy="176.4" r="4.5"/><circle cx="249.1" cy="131.5" r="4.5"/><circle cx="250.5" cy="154" r="4.5"/><circle cx="247.9" cy="186.5" r="4.5"/><circle cx="248.6" cy="196.6" r="4.5"/><circle cx="247.6" cy="179.3" r="4.5"/><circle cx="249.5" cy="175.1" r="4.5"/><circle cx="247.6" cy="155.9" r="4.5"/><circle cx="249" cy="137.2" r="4.5"/><circle cx="247.8" cy="165.8" r="4.5"/><circle cx="248.6" cy="199.7" r="4.5"/><circle cx="248.2" cy="145.6" r="4.5"/><circle cx="249.5" cy="122.2" r="4.5"/><circle cx="248" cy="118.1" r="4.5"/><circle cx="250" cy="181.5" r="4.5"/><circle cx="247.9" cy="135.6" r="4.5"/><circle cx="249.5" cy="115.3" r="4.5"/><circle cx="247.7" cy="127.2" r="4.5"/><circle cx="249.8" cy="132.6" r="4.5"/><circle cx="249.7" cy="124.9" r="4.5"/><circle cx="254" cy="109" r="4.5"/><circle cx="254" cy="238" r="4.5"/><circle cx="254.4" cy="196" r="4.5"/><circle cx="254.4" cy="131.5" r="4.5"/><circle cx="253.9" cy="141.6" r="4.5"/><circle cx="253.5" cy="151.9" r="4.5"/><circle cx="255.2" cy="133" r="4.5"/><circle cx="253.7" cy="209.9" r="4.5"/><circle cx="252.7" cy="209.3" r="4.5"/><circle cx="255.2" cy="189" r="4.5"/><circle cx="255.3" cy="167.7" r="4.5"/><circle cx="254.8" cy="237.5" r="4.5"/><circle cx="254" cy="167.5" r="4.5"/><circle cx="255.4" cy="198.8" r="4.5"/><circle cx="254" cy="160.1" r="4.5"/><circle cx="254.7" cy="234.4" r="4.5"/><circle cx="254" cy="168.8" r="4.5"/><circle cx="254" cy="114.3" r="4.5"/><circle cx="255" cy="202.4" r="4.5"/><circle cx="254.4" cy="199" r="4.5"/><circle cx="254.9" cy="164.9" r="4.5"/><circle cx="254.2" cy="140.1" r="4.5"/><circle cx="254.2" cy="192.9" r="4.5"/><circle cx="254.2" cy="134.2" r="4.5"/><circle cx="253.3" cy="114.1" r="4.5"/><circle cx="253.8" cy="183.6" r="4.5"/><circle cx="253.6" cy="195.3" r="4.5"/><circle cx="253.7" cy="169.6" r="4.5"/><circle cx="253.1" cy="177.7" r="4.5"/><circle cx="253.2" cy="137.5" r="4.5"/><circle cx="253.8" cy="191.2" r="4.5"/><circle cx="254" cy="138.4" r="4.5"/><circle cx="254.2" cy="199.6" r="4.5"/><circle cx="253.1" cy="124.6" r="4.5"/><circle cx="255.1" cy="153.1" r="4.5"/><circle cx="254.2" cy="172" r="4.5"/><circle cx="254" cy="149.5" r="4.5"/><circle cx="253" cy="199.1" r="4.5"/><circle cx="254.5" cy="229.8" r="4.5"/><circle cx="254" cy="218.7" r="4.5"/><circle cx="260" cy="120" r="4.5"/><circle cx="260" cy="200" r="4.5"/><circle cx="260" cy="199" r="4.5"/><circle cx="259" cy="144" r="4.5"/><circle cx="260.8" cy="153.8" r="4.5"/><circle cx="260.2" cy="190.9" r="4.5"/><circle cx="259.1" cy="125.3" r="4.5"/><circle cx="258.6" cy="169.5" r="4.5"/><circle cx="261.3" cy="139.2" r="4.5"/><circle cx="260" cy="154.2" r="4.5"/><circle cx="260" cy="185.9" r="4.5"/><circle cx="261.2" cy="166.8" r="4.5"/><circle cx="259.9" cy="192.6" r="4.5"/><circle cx="259.8" cy="144.3" r="4.5"/><circle cx="259.9" cy="172.9" r="4.5"/><circle cx="259.2" cy="179.6" r="4.5"/><circle cx="259.6" cy="124.8" r="4.5"/><circle cx="260.6" cy="190.8" r="4.5"/><circle cx="261.2" cy="198.6" r="4.5"/><circle cx="258.6" cy="197.9" r="4.5"/><circle cx="261.2" cy="191.2" r="4.5"/><circle cx="258.5" cy="173.7" r="4.5"/><circle cx="259.1" cy="192.1" r="4.5"/><circle cx="259.3" cy="124.6" r="4.5"/><circle cx="260.3" cy="175.4" r="4.5"/><circle cx="265" cy="101" r="4.5"/><circle cx="265" cy="200" r="4.5"/><circle cx="265.1" cy="141.7" r="4.5"/><circle cx="263.7" cy="172.6" r="4.5"/><circle cx="263.5" cy="158.3" r="4.5"/><circle cx="263.8" cy="146.1" r="4.5"/><circle cx="265.2" cy="125.4" r="4.5"/><circle cx="265.8" cy="126.3" r="4.5"/><circle cx="266.1" cy="139.9" r="4.5"/><circle cx="265.6" cy="145.7" r="4.5"/><circle cx="264.5" cy="110.2" r="4.5"/><circle cx="265.3" cy="106.1" r="4.5"/><circle cx="264.9" cy="141.2" r="4.5"/><circle cx="264.4" cy="125.9" r="4.5"/><circle cx="265" cy="188.2" r="4.5"/><circle cx="265.9" cy="131.4" r="4.5"/><circle cx="265.3" cy="163.4" r="4.5"/><circle cx="265.7" cy="162.9" r="4.5"/><circle cx="263.7" cy="115.2" r="4.5"/><circle cx="265.9" cy="127" r="4.5"/><circle cx="265.2" cy="106.3" r="4.5"/><circle cx="265.2" cy="129.5" r="4.5"/><circle cx="263.6" cy="102.5" r="4.5"/><circle cx="264.2" cy="152.1" r="4.5"/><circle cx="265.8" cy="104" r="4.5"/><circle cx="265" cy="134.2" r="4.5"/><circle cx="265.3" cy="170.5" r="4.5"/><circle cx="263.8" cy="125.5" r="4.5"/><circle cx="266.1" cy="166.7" r="4.5"/><circle cx="264" cy="154.3" r="4.5"/><circle cx="264.6" cy="116.3" r="4.5"/><circle cx="270" cy="113" r="4.5"/><circle cx="270" cy="238" r="4.5"/><circle cx="269.7" cy="179.3" r="4.5"/><circle cx="270.5" cy="223.4" r="4.5"/><circle cx="269.3" cy="236.5" r="4.5"/><circle cx="269.6" cy="193.9" r="4.5"/><circle cx="269.7" cy="169.1" r="4.5"/><circle cx="270.6" cy="205.7" r="4.5"/><circle cx="268.7" cy="115.8" r="4.5"/><circle cx="269.5" cy="152.7" r="4.5"/><circle cx="269.8" cy="231.1" r="4.5"/><circle cx="269.4" cy="141.4" r="4.5"/><circle cx="269.8" cy="154.6" r="4.5"/><circle cx="269.7" cy="178.7" r="4.5"/><circle cx="268.8" cy="207.5" r="4.5"/><circle cx="270.4" cy="207.2" r="4.5"/><circle cx="269.8" cy="135" r="4.5"/><circle cx="270.7" cy="222" r="4.5"/><circle cx="271.2" cy="203.3" r="4.5"/><circle cx="268.9" cy="149.6" r="4.5"/><circle cx="270.6" cy="118" r="4.5"/><circle cx="269.3" cy="161.3" r="4.5"/><circle cx="270.9" cy="116.4" r="4.5"/><circle cx="269.3" cy="192.6" r="4.5"/><circle cx="268.5" cy="151.6" r="4.5"/><circle cx="270.7" cy="171.1" r="4.5"/><circle cx="270.7" cy="143.7" r="4.5"/><circle cx="270.6" cy="132.6" r="4.5"/><circle cx="270.4" cy="211.7" r="4.5"/><circle cx="268.7" cy="148.1" r="4.5"/><circle cx="269.5" cy="223.5" r="4.5"/><circle cx="268.7" cy="164.4" r="4.5"/><circle cx="271.5" cy="124.5" r="4.5"/><circle cx="271.4" cy="122.1" r="4.5"/><circle cx="270.1" cy="169.2" r="4.5"/><circle cx="270.6" cy="148.7" r="4.5"/><circle cx="269.9" cy="221.4" r="4.5"/><circle cx="269" cy="224.9" r="4.5"/><circle cx="290.5" cy="111" r="4.5"/><circle cx="290.5" cy="182" r="4.5"/><circle cx="289.3" cy="123.4" r="4.5"/><circle cx="289.7" cy="149.2" r="4.5"/><circle cx="289.9" cy="144.4" r="4.5"/><circle cx="289.2" cy="132.4" r="4.5"/><circle cx="289" cy="119.7" r="4.5"/><circle cx="291" cy="150.6" r="4.5"/><circle cx="290.4" cy="112.8" r="4.5"/><circle cx="291.3" cy="118" r="4.5"/><circle cx="291.1" cy="139.9" r="4.5"/><circle cx="291.6" cy="117.9" r="4.5"/><circle cx="290.1" cy="114" r="4.5"/><circle cx="291.8" cy="154.7" r="4.5"/><circle cx="290" cy="122.4" r="4.5"/><circle cx="291.7" cy="136.2" r="4.5"/><circle cx="289.4" cy="144.3" r="4.5"/><circle cx="290.1" cy="169.1" r="4.5"/><circle cx="289.2" cy="165.4" r="4.5"/><circle cx="291.7" cy="115.3" r="4.5"/><circle cx="291" cy="162.5" r="4.5"/><circle cx="291.3" cy="172.6" r="4.5"/><circle cx="299" cy="182" r="4.5"/><circle cx="299" cy="200" r="4.5"/><circle cx="298.9" cy="193.6" r="4.5"/><circle cx="299.3" cy="189.9" r="4.5"/><circle cx="297.9" cy="191.8" r="4.5"/><circle cx="299.1" cy="188.2" r="4.5"/><circle cx="299.7" cy="198" r="4.5"/><circle cx="305" cy="90" r="4.5"/><circle cx="305" cy="220" r="4.5"/><circle cx="305" cy="139.2" r="4.5"/><circle cx="305" cy="185.9" r="4.5"/><circle cx="304.4" cy="197.3" r="4.5"/><circle cx="305.5" cy="181.4" r="4.5"/><circle cx="305.3" cy="98.8" r="4.5"/><circle cx="305.4" cy="202.7" r="4.5"/><circle cx="305.5" cy="199.5" r="4.5"/><circle cx="303.9" cy="149.1" r="4.5"/><circle cx="305.7" cy="213.1" r="4.5"/><circle cx="303.7" cy="116.6" r="4.5"/><circle cx="304.2" cy="123" r="4.5"/><circle cx="305.4" cy="143.3" r="4.5"/><circle cx="306.3" cy="177.8" r="4.5"/><circle cx="305.6" cy="207.8" r="4.5"/><circle cx="306.1" cy="93.7" r="4.5"/><circle cx="304.8" cy="174.5" r="4.5"/><circle cx="305.7" cy="207.5" r="4.5"/><circle cx="304.1" cy="154.4" r="4.5"/><circle cx="306.2" cy="114.2" r="4.5"/><circle cx="303.6" cy="145.2" r="4.5"/><circle cx="304" cy="94.4" r="4.5"/><circle cx="304.7" cy="172.6" r="4.5"/><circle cx="305.4" cy="201.3" r="4.5"/><circle cx="304.3" cy="125.9" r="4.5"/><circle cx="306.2" cy="97.2" r="4.5"/><circle cx="305.3" cy="107.8" r="4.5"/><circle cx="305.8" cy="105.1" r="4.5"/><circle cx="306" cy="127.9" r="4.5"/><circle cx="306.3" cy="172.1" r="4.5"/><circle cx="305.8" cy="116.4" r="4.5"/><circle cx="305.5" cy="175.4" r="4.5"/><circle cx="304.7" cy="162.1" r="4.5"/><circle cx="305.1" cy="199.4" r="4.5"/><circle cx="306.5" cy="196.6" r="4.5"/><circle cx="305" cy="103.1" r="4.5"/><circle cx="305.4" cy="216.5" r="4.5"/><circle cx="304.1" cy="107.5" r="4.5"/><circle cx="304.1" cy="101.6" r="4.5"/><circle cx="311" cy="75" r="4.5"/><circle cx="311" cy="215" r="4.5"/><circle cx="311" cy="103.2" r="4.5"/><circle cx="312.2" cy="199.8" r="4.5"/><circle cx="312.1" cy="149.5" r="4.5"/><circle cx="310.8" cy="168.3" r="4.5"/><circle cx="310.7" cy="153.9" r="4.5"/><circle cx="309.7" cy="151.9" r="4.5"/><circle cx="311.2" cy="105.4" r="4.5"/><circle cx="310" cy="136.2" r="4.5"/><circle cx="312.2" cy="214" r="4.5"/><circle cx="311.6" cy="121" r="4.5"/><circle cx="310.5" cy="204.6" r="4.5"/><circle cx="310.3" cy="158.7" r="4.5"/><circle cx="311.7" cy="114.4" r="4.5"/><circle cx="312.3" cy="110" r="4.5"/><circle cx="312.5" cy="173.8" r="4.5"/><circle cx="311.1" cy="155.8" r="4.5"/><circle cx="312.2" cy="195.1" r="4.5"/><circle cx="309.6" cy="119.6" r="4.5"/><circle cx="309.5" cy="134.1" r="4.5"/><circle cx="311.6" cy="129.5" r="4.5"/><circle cx="311.2" cy="97.9" r="4.5"/><circle cx="310.1" cy="121.5" r="4.5"/><circle cx="310.3" cy="174.8" r="4.5"/><circle cx="311.8" cy="118.2" r="4.5"/><circle cx="312" cy="124.1" r="4.5"/><circle cx="312" cy="173.2" r="4.5"/><circle cx="311" cy="182.6" r="4.5"/><circle cx="311.9" cy="105.9" r="4.5"/><circle cx="312.2" cy="122.9" r="4.5"/><circle cx="309.7" cy="213.8" r="4.5"/><circle cx="312.5" cy="167.9" r="4.5"/><circle cx="309.6" cy="76.7" r="4.5"/><circle cx="311.8" cy="171.8" r="4.5"/><circle cx="312" cy="209.3" r="4.5"/><circle cx="311.4" cy="188.8" r="4.5"/><circle cx="310.6" cy="131.9" r="4.5"/><circle cx="311.4" cy="118.1" r="4.5"/><circle cx="311.5" cy="198.6" r="4.5"/><circle cx="310.8" cy="199.6" r="4.5"/><circle cx="311.8" cy="111.5" r="4.5"/><circle cx="309.7" cy="119.2" r="4.5"/></g>
<g fill="#619CFF"><circle cx="171.5" cy="259.4" r="4.5"/><circle cx="138.2" cy="237.8" r="4.5"/><circle cx="129.9" cy="218.1" r="4.5"/><circle cx="207.5" cy="232.4" r="4.5"/><circle cx="196.9" cy="202.3" r="4.5"/><circle cx="160.5" cy="266.4" r="4.5"/><circle cx="184.5" cy="246.6" r="4.5"/><circle cx="206" cy="228.1" r="4.5"/><circle cx="148.8" cy="268.4" r="4.5"/><circle cx="142.2" cy="266.8" r="4.5"/><circle cx="150.1" cy="213.9" r="4.5"/><circle cx="157.4" cy="202.7" r="4.5"/><circle cx="172.3" cy="258.1" r="4.5"/><circle cx="174.4" cy="258.9" r="4.5"/><circle cx="160.7" cy="204.2" r="4.5"/><circle cx="191.7" cy="255.8" r="4.5"/><circle cx="215.9" cy="208.6" r="4.5"/><circle cx="164.6" cy="225.2" r="4.5"/><circle cx="150.4" cy="297.1" r="4.5"/><circle cx="127.6" cy="210.4" r="4.5"/><circle cx="148.4" cy="225.6" r="4.5"/><circle cx="192.4" cy="273.7" r="4.5"/><circle cx="128.2" cy="202.9" r="4.5"/><circle cx="192.8" cy="274.2" r="4.5"/><circle cx="198.3" cy="265.1" r="4.5"/><circle cx="192.1" cy="212.6" r="4.5"/><circle cx="196.3" cy="214.7" r="4.5"/><circle cx="177.5" cy="265.1" r="4.5"/><circle cx="158.3" cy="215.9" r="4.5"/><circle cx="168" cy="247.7" r="4.5"/><circle cx="146.1" cy="275.8" r="4.5"/><circle cx="168.1" cy="234.5" r="4.5"/><circle cx="177.4" cy="221.5" r="4.5"/><circle cx="210.7" cy="211.8" r="4.5"/><circle cx="196.3" cy="219.3" r="4.5"/><circle cx="213.9" cy="219.8" r="4.5"/><circle cx="125.5" cy="222.1" r="4.5"/><circle cx="157.1" cy="215.6" r="4.5"/><circle cx="141" cy="223.9" r="4.5"/><circle cx="116.3" cy="218.5" r="4.5"/><circle cx="132.8" cy="230.2" r="4.5"/><circle cx="184.4" cy="202.6" r="4.5"/><circle cx="167" cy="284.2" r="4.5"/><circle cx="160.1" cy="236" r="4.5"/><circle cx="146" cy="216.4" r="4.5"/><circle cx="157.9" cy="234.5" r="4.5"/><circle cx="134.5" cy="210.9" r="4.5"/><circle cx="134.5" cy="229.8" r="4.5"/><circle cx="160.4" cy="216.7" r="4.5"/><circle cx="162.9" cy="250.3" r="4.5"/><circle cx="165" cy="222.9" r="4.5"/><circle cx="186" cy="222" r="4.5"/><circle cx="201.8" cy="226.2" r="4.5"/><circle cx="125.3" cy="226.5" r="4.5"/><circle cx="183.6" cy="237.8" r="4.5"/><circle cx="167" cy="237.2" r="4.5"/><circle cx="170.8" cy="240.6" r="4.5"/><circle cx="183.1" cy="282.9" r="4.5"/><circle cx="162" cy="211.5" r="4.5"/><circle cx="157.9" cy="300.1" r="4.5"/><circle cx="208.8" cy="230.8" r="4.5"/><circle cx="177.8" cy="199.1" r="4.5"/><circle cx="186.5" cy="259.5" r="4.5"/><circle cx="146.6" cy="225.6" r="4.5"/><circle cx="151.4" cy="242.3" r="4.5"/><circle cx="134.1" cy="215.2" r="4.5"/><circle cx="156.4" cy="232.5" r="4.5"/><circle cx="178" cy="296.6" r="4.5"/><circle cx="209.9" cy="202.3" r="4.5"/><circle cx="206.2" cy="251.1" r="4.5"/><circle cx="208" cy="247" r="4.5"/><circle cx="182.4" cy="224.9" r="4.5"/><circle cx="144.6" cy="263" r="4.5"/><circle cx="192.4" cy="250" r="4.5"/><circle cx="164.2" cy="240.6" r="4.5"/><circle cx="182.3" cy="240.5" r="4.5"/><circle cx="197.2" cy="256.3" r="4.5"/><circle cx="171.1" cy="263" r="4.5"/><circle cx="160.3" cy="254.1" r="4.5"/><circle cx="137.5" cy="220.9" r="4.5"/><circle cx="153.1" cy="213.6" r="4.5"/><circle cx="178.6" cy="215.2" r="4.5"/><circle cx="136" cy="217.9" r="4.5"/><circle cx="181.3" cy="250.9" r="4.5"/><circle cx="121.5" cy="224.5" r="4.5"/><circle cx="166.8" cy="223.4" r="4.5"/><circle cx="161.5" cy="246.7" r="4.5"/><circle cx="172.7" cy="247.6" r="4.5"/><circle cx="151.9" cy="200.8" r="4.5"/><circle cx="195.7" cy="256" r="4.5"/><circle cx="185.6" cy="202.4" r="4.5"/><circle cx="156.7" cy="233.3" r="4.5"/><circle cx="163.1" cy="271.7" r="4.5"/><circle cx="183.5" cy="203.8" r="4.5"/><circle cx="203" cy="264.2" r="4.5"/><circle cx="209.7" cy="201" r="4.5"/><circle cx="199.1" cy="216.9" r="4.5"/><circle cx="159.8" cy="288.2" r="4.5"/><circle cx="181.8" cy="288.2" r="4.5"/><circle cx="178.1" cy="275.1" r="4.5"/><circle cx="212.6" cy="215.7" r="4.5"/><circle cx="162.9" cy="263.8" r="4.5"/><circle cx="160.5" cy="204" r="4.5"/><circle cx="177" cy="277.2" r="4.5"/><circle cx="183.9" cy="249.3" r="4.5"/><circle cx="156.1" cy="289.1" r="4.5"/><circle cx="184.3" cy="272.8" r="4.5"/><circle cx="198.2" cy="207.3" r="4.5"/><circle cx="184" cy="289.2" r="4.5"/><circle cx="147.4" cy="278.4" r="4.5"/><circle cx="191.8" cy="277.4" r="4.5"/><circle cx="161.7" cy="248.5" r="4.5"/><circle cx="210.6" cy="219.9" r="4.5"/><circle cx="138.1" cy="214.4" r="4.5"/><circle cx="142.8" cy="239.6" r="4.5"/><circle cx="194.6" cy="265.8" r="4.5"/><circle cx="151.7" cy="299.7" r="4.5"/><circle cx="163.7" cy="206.2" r="4.5"/><circle cx="144.1" cy="234.5" r="4.5"/><circle cx="166.3" cy="272.7" r="4.5"/><circle cx="208.9" cy="219.1" r="4.5"/><circle cx="188.5" cy="271.2" r="4.5"/><circle cx="129.1" cy="203.9" r="4.5"/><circle cx="216.1" cy="208.5" r="4.5"/><circle cx="213.6" cy="219.2" r="4.5"/><circle cx="152.1" cy="226.2" r="4.5"/><circle cx="151.2" cy="283.4" r="4.5"/><circle cx="156" cy="297.5" r="4.5"/><circle cx="114.5" cy="210.4" r="4.5"/><circle cx="164.7" cy="286.2" r="4.5"/><circle cx="171" cy="209.9" r="4.5"/><circle cx="175.4" cy="261.9" r="4.5"/><circle cx="140.5" cy="255.9" r="4.5"/><circle cx="189.4" cy="204.4" r="4.5"/><circle cx="203.5" cy="247.8" r="4.5"/><circle cx="125.7" cy="220.3" r="4.5"/><circle cx="198.3" cy="241.2" r="4.5"/><circle cx="191.3" cy="215.8" r="4.5"/><circle cx="138.3" cy="204.7" r="4.5"/><circle cx="166.8" cy="254" r="4.5"/><circle cx="175.9" cy="287.8" r="4.5"/><circle cx="201.7" cy="233.4" r="4.5"/><circle cx="150.4" cy="212.6" r="4.5"/><circle cx="170.1" cy="238.3" r="4.5"/><circle cx="183.5" cy="229.1" r="4.5"/><circle cx="143.2" cy="266.9" r="4.5"/><circle cx="118" cy="221.8" r="4.5"/><circle cx="166.9" cy="268.5" r="4.5"/><circle cx="154.4" cy="240.3" r="4.5"/><circle cx="183.8" cy="222.9" r="4.5"/><circle cx="164.3" cy="286.2" r="4.5"/><circle cx="189" cy="197" r="4.5"/><circle cx="138.1" cy="220.1" r="4.5"/><circle cx="190" cy="197.5" r="4.5"/><circle cx="189.4" cy="211.5" r="4.5"/><circle cx="172.9" cy="223.7" r="4.5"/><circle cx="215.9" cy="211.7" r="4.5"/><circle cx="156.5" cy="236" r="4.5"/><circle cx="147.6" cy="206.9" r="4.5"/><circle cx="208.6" cy="209.6" r="4.5"/><circle cx="106.2" cy="197.9" r="4.5"/><circle cx="138.8" cy="216.8" r="4.5"/><circle cx="133.6" cy="243" r="4.5"/><circle cx="173.6" cy="225" r="4.5"/><circle cx="188.8" cy="276.1" r="4.5"/><circle cx="193.6" cy="238.2" r="4.5"/><circle cx="198.2" cy="202.2" r="4.5"/><circle cx="194.3" cy="226.6" r="4.5"/><circle cx="135.4" cy="243.5" r="4.5"/><circle cx="200" cy="273.2" r="4.5"/><circle cx="218.6" cy="196.6" r="4.5"/><circle cx="152.4" cy="263.5" r="4.5"/><circle cx="153.7" cy="238.4" r="4.5"/><circle cx="207.7" cy="251.5" r="4.5"/><circle cx="147.6" cy="227.2" r="4.5"/><circle cx="182.7" cy="250.4" r="4.5"/><circle cx="158.1" cy="219.1" r="4.5"/><circle cx="150.2" cy="239" r="4.5"/><circle cx="119.4" cy="219.3" r="4.5"/><circle cx="133" cy="242.5" r="4.5"/><circle cx="169.9" cy="277.7" r="4.5"/><circle cx="157.8" cy="269.5" r="4.5"/><circle cx="170.1" cy="204.2" r="4.5"/><circle cx="157.6" cy="218.9" r="4.5"/><circle cx="162.4" cy="288.6" r="4.5"/><circle cx="183.6" cy="205.4" r="4.5"/><circle cx="176.1" cy="200.1" r="4.5"/><circle cx="134.1" cy="221.8" r="4.5"/><circle cx="138.6" cy="197.8" r="4.5"/><circle cx="151.8" cy="256.7" r="4.5"/><circle cx="153.7" cy="291.4" r="4.5"/><circle cx="197.9" cy="229.5" r="4.5"/><circle cx="123.6" cy="216.4" r="4.5"/><circle cx="146" cy="240.3" r="4.5"/><circle cx="189.3" cy="271.8" r="4.5"/><circle cx="148" cy="234" r="4.5"/><circle cx="145.6" cy="253.1" r="4.5"/><circle cx="158" cy="258" r="4.5"/><circle cx="210" cy="235" r="4.5"/><circle cx="167.3" cy="216.9" r="4.5"/><circle cx="168.4" cy="259.5" r="4.5"/><circle cx="181.1" cy="245.1" r="4.5"/><circle cx="133" cy="216.4" r="4.5"/><circle cx="132.7" cy="229.1" r="4.5"/><circle cx="159.5" cy="240.4" r="4.5"/><circle cx="150.3" cy="205.2" r="4.5"/><circle cx="170" cy="237.3" r="4.5"/></g>
<g fill="#619CFF"><circle cx="160.5" cy="300" r="4.5"/><circle cx="160.5" cy="372" r="4.5"/><circle cx="160.9" cy="338.8" r="4.5"/><circle cx="160" cy="352.4" r="4.5"/><circle cx="159.5" cy="326.2" r="4.5"/><circle cx="161.8" cy="351.6" r="4.5"/><circle cx="159.3" cy="324" r="4.5"/><circle cx="160.6" cy="311.5" r="4.5"/><circle cx="161.5" cy="344.7" r="4.5"/><circle cx="160" cy="323.8" r="4.5"/><circle cx="159.2" cy="314" r="4.5"/><circle cx="160.8" cy="339.1" r="4.5"/><circle cx="161.9" cy="357.6" r="4.5"/><circle cx="161.4" cy="341.7" r="4.5"/><circle cx="159.4" cy="331.8" r="4.5"/><circle cx="162.1" cy="356.4" r="4.5"/><circle cx="161.5" cy="363.7" r="4.5"/></g>
<g fill="#619CFF"><circle cx="396.7" cy="106" r="4.5"/><circle cx="396" cy="111" r="4.5"/><circle cx="396.8" cy="116" r="4.5"/><circle cx="396.9" cy="121" r="4.5"/><circle cx="396.4" cy="126" r="4.5"/><circle cx="389.1" cy="110" r="4.5"/><circle cx="389.4" cy="116" r="4.5"/><circle cx="389.4" cy="122" r="4.5"/><circle cx="389.5" cy="128" r="4.5"/><circle cx="389" cy="136" r="4.5"/><circle cx="389.4" cy="141" r="4.5"/><circle cx="378.4" cy="140" r="4.5"/><circle cx="378.4" cy="145.5" r="4.5"/><circle cx="378.5" cy="151" r="4.5"/><circle cx="396.4" cy="142" r="4.5"/><circle cx="395.7" cy="147.8" r="4.5"/><circle cx="396" cy="153.7" r="4.5"/><circle cx="396.7" cy="159.5" r="4.5"/><circle cx="395.7" cy="165.3" r="4.5"/><circle cx="396.8" cy="171.2" r="4.5"/><circle cx="396.8" cy="177" r="4.5"/><circle cx="396.3" cy="186" r="4.5"/><circle cx="396.8" cy="191.3" r="4.5"/><circle cx="396.8" cy="196.7" r="4.5"/><circle cx="396.2" cy="202" r="4.5"/><circle cx="396.6" cy="207.3" r="4.5"/><circle cx="395.9" cy="212.7" r="4.5"/><circle cx="396.2" cy="218" r="4.5"/><circle cx="336.9" cy="165" r="4.5"/><circle cx="337.1" cy="171.3" r="4.5"/><circle cx="337.9" cy="177.7" r="4.5"/><circle cx="337.5" cy="184" r="4.5"/><circle cx="337.1" cy="196" r="4.5"/><circle cx="336.8" cy="200.7" r="4.5"/><circle cx="337.7" cy="205.3" r="4.5"/><circle cx="337.8" cy="210" r="4.5"/><circle cx="292.2" cy="111" r="4.5"/><circle cx="291.1" cy="115.5" r="4.5"/><circle cx="292" cy="120" r="4.5"/></g>
<g fill="#619CFF"><circle cx="291.6" cy="77.8" r="4.5"/><circle cx="291.6" cy="88.5" r="4.5"/><circle cx="291.6" cy="101.5" r="4.5"/><circle cx="264" cy="58.6" r="4.5"/><circle cx="264" cy="69.3" r="4.5"/><circle cx="306.9" cy="28" r="4.5"/><circle cx="306.9" cy="38.2" r="4.5"/><circle cx="306.9" cy="59.7" r="4.5"/><circle cx="306.9" cy="66.5" r="4.5"/><circle cx="214" cy="68.2" r="4.5"/><circle cx="214" cy="76.7" r="4.5"/><circle cx="214" cy="87.4" r="4.5"/><circle cx="223.2" cy="77.8" r="4.5"/><circle cx="223.2" cy="83.5" r="4.5"/><circle cx="121.6" cy="48.8" r="4.5"/><circle cx="124" cy="51" r="4.5"/></g>
<g fill="#619CFF"><circle cx="126" cy="53" r="4.5"/><circle cx="264" cy="21.7" r="4.5"/><circle cx="223.4" cy="34.2" r="4.5"/><circle cx="247.3" cy="36.4" r="4.5"/><circle cx="223.4" cy="53" r="4.5"/><circle cx="231.4" cy="66" r="4.5"/><circle cx="140" cy="73.2" r="4.5"/><circle cx="153" cy="74.1" r="4.5"/><circle cx="146.5" cy="79" r="4.5"/><circle cx="139.8" cy="72.7" r="4.5"/><circle cx="146.5" cy="78" r="4.5"/><circle cx="153.1" cy="74" r="4.5"/><circle cx="179.9" cy="87.4" r="4.5"/><circle cx="199.6" cy="99.7" r="4.5"/><circle cx="243" cy="94" r="4.5"/><circle cx="248.3" cy="95.3" r="4.5"/><circle cx="243" cy="103" r="4.5"/><circle cx="278.7" cy="91" r="4.5"/><circle cx="264" cy="105" r="4.5"/><circle cx="98.4" cy="118.1" r="4.5"/><circle cx="270" cy="113.8" r="4.5"/><circle cx="279.3" cy="91.6" r="4.5"/><circle cx="270.8" cy="114" r="4.5"/><circle cx="277" cy="140" r="4.5"/><circle cx="337.8" cy="127.8" r="4.5"/><circle cx="337.8" cy="137" r="4.5"/><circle cx="343.2" cy="137" r="4.5"/><circle cx="354.8" cy="107.8" r="4.5"/><circle cx="354.8" cy="111.6" r="4.5"/><circle cx="378.7" cy="140" r="4.5"/><circle cx="378.7" cy="151" r="4.5"/><circle cx="396.4" cy="83.9" r="4.5"/><circle cx="414" cy="195.6" r="4.5"/><circle cx="396.3" cy="45" r="4.5"/><circle cx="338.4" cy="129" r="4.5"/><circle cx="488.6" cy="107.3" r="4.5"/><circle cx="488.6" cy="112.7" r="4.5"/><circle cx="557.9" cy="101.4" r="4.5"/><circle cx="557.9" cy="142" r="4.5"/><circle cx="337.3" cy="204.3" r="4.5"/><circle cx="337.3" cy="209.8" r="4.5"/><circle cx="337.3" cy="233.6" r="4.5"/><circle cx="337.3" cy="252" r="4.5"/><circle cx="396.3" cy="233.6" r="4.5"/><circle cx="396.3" cy="255.3" r="4.5"/><circle cx="396.3" cy="259.6" r="4.5"/><circle cx="396.3" cy="276.3" r="4.5"/><circle cx="102.6" cy="195.8" r="4.5"/><circle cx="111.7" cy="207" r="4.5"/><circle cx="120.7" cy="209.4" r="4.5"/><circle cx="125.2" cy="211.7" r="4.5"/><circle cx="121.8" cy="220.7" r="4.5"/><circle cx="123" cy="229.7" r="4.5"/><circle cx="127.5" cy="234.3" r="4.5"/><circle cx="136.5" cy="226.3" r="4.5"/><circle cx="135.4" cy="241" r="4.5"/><circle cx="135.4" cy="245.6" r="4.5"/><circle cx="136.5" cy="263.7" r="4.5"/><circle cx="123" cy="268.2" r="4.5"/><circle cx="126.3" cy="273.8" r="4.5"/><circle cx="124" cy="285" r="4.5"/><circle cx="128.6" cy="292" r="4.5"/><circle cx="126.3" cy="288.5" r="4.5"/><circle cx="124" cy="310" r="4.5"/><circle cx="135.4" cy="321.3" r="4.5"/><circle cx="138.3" cy="324.7" r="4.5"/><circle cx="198" cy="250.3" r="4.5"/><circle cx="182.8" cy="272" r="4.5"/><circle cx="201.7" cy="285" r="4.5"/><circle cx="181.7" cy="286" r="4.5"/><circle cx="188.2" cy="291.4" r="4.5"/><circle cx="218.5" cy="264.9" r="4.5"/><circle cx="218.5" cy="294.7" r="4.5"/><circle cx="136.2" cy="263.3" r="4.5"/><circle cx="122" cy="267.6" r="4.5"/><circle cx="126.4" cy="274" r="4.5"/><circle cx="125.3" cy="286" r="4.5"/><circle cx="128.6" cy="292.5" r="4.5"/><circle cx="136.2" cy="226.4" r="4.5"/><circle cx="159" cy="300" r="4.5"/><circle cx="161.4" cy="306.6" r="4.5"/><circle cx="163.6" cy="313.4" r="4.5"/><circle cx="166" cy="313.4" r="4.5"/><circle cx="158" cy="320" r="4.5"/><circle cx="159" cy="329.2" r="4.5"/><circle cx="162.5" cy="331.5" r="4.5"/><circle cx="161.4" cy="338.3" r="4.5"/><circle cx="162.5" cy="347.3" r="4.5"/><circle cx="162.5" cy="362" r="4.5"/><circle cx="160.3" cy="370" r="4.5"/><circle cx="154.6" cy="386.9" r="4.5"/><circle cx="139.9" cy="391.4" r="4.5"/><circle cx="177.2" cy="307.7" r="4.5"/><circle cx="179.5" cy="286.3" r="4.5"/><circle cx="184" cy="289.7" r="4.5"/><circle cx="187.4" cy="292" r="4.5"/><circle cx="182.9" cy="271.6" r="4.5"/><circle cx="186.3" cy="330.4" r="4.5"/><circle cx="193" cy="315.2" r="4.5"/><circle cx="202" cy="285.1" r="4.5"/><circle cx="198.7" cy="249" r="4.5"/><circle cx="199.8" cy="263.7" r="4.5"/><circle cx="203.2" cy="260.3" r="4.5"/><circle cx="203.2" cy="270.4" r="4.5"/><circle cx="219" cy="264.8" r="4.5"/><circle cx="218.4" cy="294.9" r="4.5"/><circle cx="218.4" cy="356.8" r="4.5"/><circle cx="247.3" cy="220.7" r="4.5"/><circle cx="247.3" cy="242.2" r="4.5"/><circle cx="257.5" cy="238.8" r="4.5"/><circle cx="257.5" cy="244.4" r="4.5"/><circle cx="270" cy="244.4" r="4.5"/><circle cx="264.3" cy="290.8" r="4.5"/><circle cx="247.3" cy="315.7" r="4.5"/><circle cx="286.9" cy="234.3" r="4.5"/><circle cx="292.5" cy="249" r="4.5"/><circle cx="292.5" cy="333.7" r="4.5"/><circle cx="292.5" cy="353.6" r="4.5"/><circle cx="306" cy="214" r="4.5"/><circle cx="336.6" cy="234.3" r="4.5"/><circle cx="336.6" cy="252.3" r="4.5"/><circle cx="260" cy="215" r="4.5"/><circle cx="262" cy="225" r="4.5"/><circle cx="265" cy="230" r="4.5"/><circle cx="258" cy="205" r="4.5"/><circle cx="266" cy="210" r="4.5"/><circle cx="246" cy="221.5" r="4.5"/><circle cx="287.2" cy="234.6" r="4.5"/><circle cx="293.7" cy="247.8" r="4.5"/><circle cx="252" cy="241.2" r="4.5"/><circle cx="259" cy="241.2" r="4.5"/><circle cx="122.7" cy="268.3" r="4.5"/><circle cx="127" cy="274.8" r="4.5"/><circle cx="136.8" cy="263.3" r="4.5"/><circle cx="150.8" cy="287.8" r="4.5"/><circle cx="179" cy="286.7" r="4.5"/><circle cx="187.7" cy="292" r="4.5"/><circle cx="183.3" cy="272.2" r="4.5"/><circle cx="218.4" cy="264.6" r="4.5"/><circle cx="201.8" cy="285.2" r="4.5"/><circle cx="264" cy="290.6" r="4.5"/><circle cx="218.4" cy="294.7" r="4.5"/></g>
<g fill="#F8766D"><circle cx="226" cy="130" r="4.5"/><circle cx="232" cy="136" r="4.5"/><circle cx="228" cy="142" r="4.5"/><circle cx="236" cy="140" r="4.5"/><circle cx="226" cy="172" r="4.5"/><circle cx="232" cy="178" r="4.5"/><circle cx="228" cy="185" r="4.5"/><circle cx="236" cy="182" r="4.5"/><circle cx="230" cy="190" r="4.5"/><circle cx="242" cy="176" r="4.5"/><circle cx="244" cy="187" r="4.5"/><circle cx="256" cy="193" r="4.5"/></g>
<polygon fill="#999999" fill-opacity="0.4" points="123.8,106 133.2,111.2 142.6,116.4 152,121.6 161.4,126.8 170.8,131.9 180.2,136.9 189.6,141.9 198.9,146.8 208.3,151.6 217.7,156.2 227.1,160.6 236.5,164.8 245.9,168.8 255.3,172.4 264.7,175.8 274.1,178.9 283.5,181.8 292.9,184.5 302.3,187 311.7,189.4 321.1,191.8 330.5,194.1 339.8,196.3 349.2,198.5 358.6,200.6 368,202.8 377.4,204.9 386.8,207 396.2,209 405.6,211.1 405.6,271.3 396.2,266 386.8,260.8 377.4,255.5 368,250.3 358.6,245.1 349.2,239.9 339.8,234.7 330.5,229.6 321.1,224.5 311.7,219.6 302.3,214.7 292.9,209.9 283.5,205.2 274.1,200.7 264.7,196.5 255.3,192.5 245.9,188.8 236.5,185.4 227.1,182.3 217.7,179.4 208.3,176.7 198.9,174.1 189.6,171.7 180.2,169.3 170.8,167 161.4,164.8 152,162.6 142.6,160.4 133.2,158.3 123.8,156.2"/>
<line x1="123.8" y1="131.1" x2="405.6" y2="241.2" stroke="#F8766D" stroke-width="4.5"/>
<polygon fill="#999999" fill-opacity="0.4" points="122.7,163.4 128.8,162.7 134.9,161.9 140.9,161 147,160 153.1,158.9 159.2,157.7 165.3,156.5 171.3,155.2 177.4,153.8 183.5,152.4 189.6,151 195.7,149.6 201.7,148.2 207.8,146.7 213.9,145.3 220,143.8 226.1,142.3 232.1,140.8 238.2,139.3 244.3,137.8 250.4,136.3 256.5,134.7 262.5,133.2 268.6,131.7 274.7,130.2 280.8,128.6 286.9,127.1 292.9,125.6 299,124 305.1,122.5 305.1,173.5 299,173.4 292.9,173.3 286.9,173.2 280.8,173.1 274.7,173 268.6,172.9 262.5,172.8 256.5,172.7 250.4,172.6 244.3,172.5 238.2,172.4 232.1,172.3 226.1,172.3 220,172.2 213.9,172.1 207.8,172.1 201.7,172.1 195.7,172.1 189.6,172.1 183.5,172.1 177.4,172.1 171.3,172.2 165.3,172.4 159.2,172.5 153.1,172.8 147,173.1 140.9,173.5 134.9,174 128.8,174.7 122.7,175.4"/>
<line x1="122.7" y1="169.4" x2="305.1" y2="148" stroke="#00BA38" stroke-width="4.5"/>
<polygon fill="#999999" fill-opacity="0.4" points="96,175.9 111.4,174.7 126.8,173.5 142.1,172.3 157.5,170.9 172.9,169.5 188.3,168 203.6,166.4 219,164.7 234.4,162.9 249.8,160.9 265.1,159 280.5,156.9 295.9,154.8 311.3,152.7 326.6,150.6 342,148.4 357.4,146.3 372.8,144.1 388.2,141.9 403.5,139.7 418.9,137.6 434.3,135.4 449.7,133.2 465,131 480.4,128.7 495.8,126.5 511.2,124.3 526.5,122.1 541.9,119.9 557.3,117.7 557.3,145.7 541.9,146.8 526.5,147.8 511.2,148.9 495.8,150 480.4,151.1 465,152.1 449.7,153.2 434.3,154.3 418.9,155.4 403.5,156.5 388.2,157.5 372.8,158.6 357.4,159.8 342,160.9 326.6,162 311.3,163.2 295.9,164.3 280.5,165.5 265.1,166.8 249.8,168.1 234.4,169.4 219,170.9 203.6,172.4 188.3,174.1 172.9,175.9 157.5,177.8 142.1,179.7 126.8,181.7 111.4,183.8 96,185.9"/>
<line x1="96" y1="180.9" x2="557.3" y2="131.7" stroke="#619CFF" stroke-width="4.5"/>
<rect x="75.3" y="4.1" width="505.2" height="406.1" fill="none" stroke="#5a5a5a" stroke-width="1.5"/>
<line x1="80" y1="410.2" x2="80" y2="416.2" stroke="#333" stroke-width="1.5"/>
<line x1="199.4" y1="410.2" x2="199.4" y2="416.2" stroke="#333" stroke-width="1.5"/>
<line x1="318.8" y1="410.2" x2="318.8" y2="416.2" stroke="#333" stroke-width="1.5"/>
<line x1="438.2" y1="410.2" x2="438.2" y2="416.2" stroke="#333" stroke-width="1.5"/>
<line x1="557.6" y1="410.2" x2="557.6" y2="416.2" stroke="#333" stroke-width="1.5"/>
<line x1="69.3" y1="313.5" x2="75.3" y2="313.5" stroke="#333" stroke-width="1.5"/>
<line x1="69.3" y1="213" x2="75.3" y2="213" stroke="#333" stroke-width="1.5"/>
<line x1="69.3" y1="112.5" x2="75.3" y2="112.5" stroke="#333" stroke-width="1.5"/>
<line x1="69.3" y1="12" x2="75.3" y2="12" stroke="#333" stroke-width="1.5"/>
<text x="80.2" y="436" class="tl" text-anchor="end">0</text>
<text x="199.6" y="436" class="tl" text-anchor="end">1000</text>
<text x="319" y="436" class="tl" text-anchor="end">2000</text>
<text x="438.4" y="436" class="tl" text-anchor="end">3000</text>
<text x="557.8" y="436" class="tl" text-anchor="end">4000</text>
<text x="64.5" y="321.5" class="tl" text-anchor="end">300</text>
<text x="64.5" y="221" class="tl" text-anchor="end">400</text>
<text x="64.5" y="120.5" class="tl" text-anchor="end">500</text>
<text x="64.5" y="20" class="tl" text-anchor="end">600</text>
<text x="326.5" y="463.5" class="at" text-anchor="middle">MAP</text>
<text transform="translate(23,207) rotate(-90)" class="at" text-anchor="middle">FinerootC</text>
<text transform="translate(351.2,305.8) scale(1.0,1)" class="an" fill="#FF0000">R<tspan dy="-8.6" font-size="14">2</tspan><tspan dy="8.6">=0.18</tspan></text>
<text transform="translate(451,305.8) scale(0.972,1)" class="an" fill="#FF0000"><tspan font-style="italic">P</tspan>&lt;0.001</text>
<text transform="translate(351.2,350.5) scale(1.0,1)" class="an" fill="#00B050">R<tspan dy="-8.6" font-size="14">2</tspan><tspan dy="8.6">=0.05</tspan></text>
<text transform="translate(451,350.5) scale(0.972,1)" class="an" fill="#00B050"><tspan font-style="italic">P</tspan>&gt;0.05</text>
<text transform="translate(351.2,395.5) scale(1.0,1)" class="an" fill="#0070C0">R<tspan dy="-8.6" font-size="14">2</tspan><tspan dy="8.6">=0.02</tspan></text>
<text transform="translate(451,395.5) scale(0.972,1)" class="an" fill="#0070C0"><tspan font-style="italic">P</tspan>&lt;0.001</text>
<rect x="681.7" y="4.1" width="515.5" height="406.1" fill="#fff"/>
<line x1="773.8" y1="4.1" x2="773.8" y2="410.2" stroke="#EBEBEB" stroke-width="0.8"/>
<line x1="917.2" y1="4.1" x2="917.2" y2="410.2" stroke="#EBEBEB" stroke-width="0.8"/>
<line x1="1060.8" y1="4.1" x2="1060.8" y2="410.2" stroke="#EBEBEB" stroke-width="0.8"/>
<line x1="681.7" y1="355.4" x2="1197.2" y2="355.4" stroke="#EBEBEB" stroke-width="0.8"/>
<line x1="681.7" y1="271.2" x2="1197.2" y2="271.2" stroke="#EBEBEB" stroke-width="0.8"/>
<line x1="681.7" y1="187" x2="1197.2" y2="187" stroke="#EBEBEB" stroke-width="0.8"/>
<line x1="681.7" y1="102.8" x2="1197.2" y2="102.8" stroke="#EBEBEB" stroke-width="0.8"/>
<line x1="681.7" y1="18.6" x2="1197.2" y2="18.6" stroke="#EBEBEB" stroke-width="0.8"/>
<line x1="702" y1="4.1" x2="702" y2="410.2" stroke="#E6E6E6" stroke-width="1.3"/>
<line x1="845.5" y1="4.1" x2="845.5" y2="410.2" stroke="#E6E6E6" stroke-width="1.3"/>
<line x1="989" y1="4.1" x2="989" y2="410.2" stroke="#E6E6E6" stroke-width="1.3"/>
<line x1="1132.5" y1="4.1" x2="1132.5" y2="410.2" stroke="#E6E6E6" stroke-width="1.3"/>
<line x1="681.7" y1="397.5" x2="1197.2" y2="397.5" stroke="#E6E6E6" stroke-width="1.3"/>
<line x1="681.7" y1="313.3" x2="1197.2" y2="313.3" stroke="#E6E6E6" stroke-width="1.3"/>
<line x1="681.7" y1="229.1" x2="1197.2" y2="229.1" stroke="#E6E6E6" stroke-width="1.3"/>
<line x1="681.7" y1="144.9" x2="1197.2" y2="144.9" stroke="#E6E6E6" stroke-width="1.3"/>
<line x1="681.7" y1="60.7" x2="1197.2" y2="60.7" stroke="#E6E6E6" stroke-width="1.3"/>
<g fill="#F8766D"><circle cx="705" cy="254.6" r="4.5"/><circle cx="705" cy="334.7" r="4.5"/><circle cx="715.8" cy="360.2" r="4.5"/><circle cx="722.7" cy="367" r="4.5"/><circle cx="739.7" cy="382.5" r="4.5"/><circle cx="763.6" cy="381" r="4.5"/><circle cx="773.6" cy="381" r="4.5"/><circle cx="787.4" cy="361" r="4.5"/><circle cx="796.7" cy="367" r="4.5"/><circle cx="849" cy="336.3" r="4.5"/><circle cx="849" cy="342" r="4.5"/><circle cx="849" cy="348.6" r="4.5"/><circle cx="873.7" cy="344" r="4.5"/><circle cx="873.7" cy="357.9" r="4.5"/><circle cx="873.7" cy="373" r="4.5"/><circle cx="873.7" cy="380" r="4.5"/><circle cx="873.7" cy="387" r="4.5"/><circle cx="873.7" cy="394.8" r="4.5"/><circle cx="899.9" cy="265" r="4.5"/><circle cx="899.9" cy="291" r="4.5"/><circle cx="897.5" cy="311" r="4.5"/><circle cx="795.8" cy="234" r="4.5"/><circle cx="795.8" cy="246" r="4.5"/><circle cx="795.8" cy="258" r="4.5"/><circle cx="795.8" cy="275" r="4.5"/><circle cx="795.8" cy="288.7" r="4.5"/><circle cx="793" cy="270" r="4.5"/><circle cx="800" cy="285" r="4.5"/></g>
<g fill="#00BA38"><circle cx="704.9" cy="201.7" r="4.5"/><circle cx="704.9" cy="218.6" r="4.5"/></g>
<polygon fill="#619CFF" stroke="#619CFF" stroke-width="6" stroke-linejoin="round" points="708,256.5 712.5,254.1 717,261.1 721.5,253 726,259.5 730.5,257.1 735,252.8 739.5,259.1 744,252.5 748.5,258.1 753,253 757.5,253.3 762,257.9 766.5,263.6 771,253.7 775.5,255.1 780,260.8 784.5,265.3 789,260.1 793.5,257.6 798,265.7 802.5,252.7 807,264 811.5,256.1 816,254 820.5,253.6 825,256.3 829.5,263.4 834,254.5 838.5,260.1 843,260.9 846,255 846,350 840,356 834,360 828,368 812,368 806,362 797,367 790,372 782,378 775,372 768,374 760,378 755,381 749,374 740,372 735,366 725,364 718,356 711,350 707,330 702,325 701,240"/>
<g fill="#619CFF"><circle cx="704.9" cy="184" r="4.5"/><circle cx="704.9" cy="262" r="4.5"/><circle cx="704.4" cy="199.3" r="4.5"/><circle cx="704.9" cy="207.9" r="4.5"/><circle cx="705.9" cy="195.8" r="4.5"/><circle cx="704.6" cy="197" r="4.5"/><circle cx="705.4" cy="222.5" r="4.5"/><circle cx="704.9" cy="254.2" r="4.5"/><circle cx="705.1" cy="223.9" r="4.5"/><circle cx="705.8" cy="229.9" r="4.5"/><circle cx="705.9" cy="234.3" r="4.5"/><circle cx="705.4" cy="225.2" r="4.5"/><circle cx="704" cy="229.6" r="4.5"/><circle cx="705.8" cy="242.8" r="4.5"/><circle cx="706" cy="204" r="4.5"/><circle cx="705.8" cy="197" r="4.5"/><circle cx="703.7" cy="187" r="4.5"/><circle cx="704.2" cy="201.5" r="4.5"/><circle cx="705.6" cy="223.7" r="4.5"/><circle cx="705.8" cy="212.2" r="4.5"/><circle cx="716.6" cy="198.6" r="4.5"/><circle cx="716.6" cy="204.8" r="4.5"/><circle cx="715.8" cy="200.4" r="4.5"/><circle cx="716.6" cy="232" r="4.5"/><circle cx="716.6" cy="262" r="4.5"/><circle cx="715.9" cy="255" r="4.5"/><circle cx="717.7" cy="248.4" r="4.5"/><circle cx="716.7" cy="248.9" r="4.5"/><circle cx="717.1" cy="257" r="4.5"/><circle cx="717.4" cy="245.4" r="4.5"/><circle cx="716.6" cy="246" r="4.5"/><circle cx="715.8" cy="234.2" r="4.5"/><circle cx="722" cy="215" r="4.5"/><circle cx="722" cy="262" r="4.5"/><circle cx="722.8" cy="235.7" r="4.5"/><circle cx="721.2" cy="216.9" r="4.5"/><circle cx="720.9" cy="235.2" r="4.5"/><circle cx="722.2" cy="258.1" r="4.5"/><circle cx="722.6" cy="234" r="4.5"/><circle cx="722.2" cy="216" r="4.5"/><circle cx="721.2" cy="235.6" r="4.5"/><circle cx="722.2" cy="246.9" r="4.5"/><circle cx="723" cy="231.9" r="4.5"/><circle cx="721.7" cy="221.6" r="4.5"/><circle cx="721.5" cy="223.9" r="4.5"/><circle cx="728" cy="189" r="4.5"/><circle cx="728" cy="262" r="4.5"/><circle cx="728.8" cy="234.5" r="4.5"/><circle cx="728.7" cy="193.7" r="4.5"/><circle cx="727.9" cy="236.7" r="4.5"/><circle cx="727.3" cy="228" r="4.5"/><circle cx="726.9" cy="236.2" r="4.5"/><circle cx="728.2" cy="236.1" r="4.5"/><circle cx="726.9" cy="228.8" r="4.5"/><circle cx="727.7" cy="205.8" r="4.5"/><circle cx="729.2" cy="227.2" r="4.5"/><circle cx="728.5" cy="225" r="4.5"/><circle cx="728.9" cy="201" r="4.5"/><circle cx="728" cy="240.2" r="4.5"/><circle cx="727.2" cy="199.5" r="4.5"/><circle cx="728" cy="228.2" r="4.5"/><circle cx="728.9" cy="235.9" r="4.5"/><circle cx="727.4" cy="213" r="4.5"/><circle cx="728.8" cy="200.9" r="4.5"/><circle cx="735" cy="195" r="4.5"/><circle cx="735" cy="262" r="4.5"/><circle cx="734.5" cy="216.5" r="4.5"/><circle cx="735.2" cy="243" r="4.5"/><circle cx="734.2" cy="224.1" r="4.5"/><circle cx="735.9" cy="239" r="4.5"/><circle cx="735.9" cy="252.1" r="4.5"/><circle cx="735.1" cy="213.4" r="4.5"/><circle cx="734.6" cy="230.4" r="4.5"/><circle cx="736" cy="213.7" r="4.5"/><circle cx="735.7" cy="212.3" r="4.5"/><circle cx="734.4" cy="198.6" r="4.5"/><circle cx="734.7" cy="249.2" r="4.5"/><circle cx="734.8" cy="236.6" r="4.5"/><circle cx="734" cy="216" r="4.5"/><circle cx="735.1" cy="195.9" r="4.5"/><circle cx="734.5" cy="249.6" r="4.5"/><circle cx="742" cy="175.5" r="4.5"/><circle cx="742" cy="262" r="4.5"/><circle cx="741" cy="243.5" r="4.5"/><circle cx="742.3" cy="195.4" r="4.5"/><circle cx="741.2" cy="233.4" r="4.5"/><circle cx="742.2" cy="205.3" r="4.5"/><circle cx="742.7" cy="222.7" r="4.5"/><circle cx="743" cy="205.2" r="4.5"/><circle cx="741.9" cy="247.5" r="4.5"/><circle cx="741.5" cy="241.6" r="4.5"/><circle cx="742.7" cy="232.3" r="4.5"/><circle cx="742.2" cy="250.7" r="4.5"/><circle cx="741.2" cy="258.4" r="4.5"/><circle cx="742.9" cy="205.6" r="4.5"/><circle cx="740.8" cy="262" r="4.5"/><circle cx="742.9" cy="230.8" r="4.5"/><circle cx="743.1" cy="189" r="4.5"/><circle cx="741.5" cy="209.7" r="4.5"/><circle cx="741.2" cy="190.8" r="4.5"/><circle cx="742.9" cy="219.7" r="4.5"/><circle cx="741.8" cy="210.9" r="4.5"/><circle cx="742.5" cy="236.3" r="4.5"/><circle cx="748" cy="150" r="4.5"/><circle cx="748" cy="262" r="4.5"/><circle cx="747.8" cy="161.6" r="4.5"/><circle cx="747.6" cy="183.7" r="4.5"/><circle cx="747.2" cy="215.7" r="4.5"/><circle cx="749.1" cy="214.8" r="4.5"/><circle cx="746.9" cy="165.6" r="4.5"/><circle cx="749" cy="259.5" r="4.5"/><circle cx="747.7" cy="200.9" r="4.5"/><circle cx="747.4" cy="226.2" r="4.5"/><circle cx="749" cy="215.6" r="4.5"/><circle cx="748.5" cy="151.3" r="4.5"/><circle cx="748.9" cy="211.8" r="4.5"/><circle cx="746.9" cy="187.5" r="4.5"/><circle cx="748.6" cy="173" r="4.5"/><circle cx="748.7" cy="218.7" r="4.5"/><circle cx="748.3" cy="249.9" r="4.5"/><circle cx="749" cy="185.4" r="4.5"/><circle cx="747.1" cy="227.9" r="4.5"/><circle cx="748.6" cy="180.7" r="4.5"/><circle cx="747.8" cy="245.3" r="4.5"/><circle cx="747.2" cy="161" r="4.5"/><circle cx="749.1" cy="151.2" r="4.5"/><circle cx="747.3" cy="152.3" r="4.5"/><circle cx="747.9" cy="227.9" r="4.5"/><circle cx="747.3" cy="164.3" r="4.5"/><circle cx="748" cy="173.9" r="4.5"/><circle cx="748.2" cy="198" r="4.5"/><circle cx="754.5" cy="124.6" r="4.5"/><circle cx="754.5" cy="262" r="4.5"/><circle cx="753.9" cy="236.8" r="4.5"/><circle cx="753.9" cy="201.4" r="4.5"/><circle cx="753.4" cy="244.3" r="4.5"/><circle cx="753.7" cy="215.3" r="4.5"/><circle cx="755.7" cy="155" r="4.5"/><circle cx="755" cy="134.3" r="4.5"/><circle cx="755.5" cy="215.4" r="4.5"/><circle cx="755" cy="130.3" r="4.5"/><circle cx="754.2" cy="206.4" r="4.5"/><circle cx="753.9" cy="228.3" r="4.5"/><circle cx="754.7" cy="153.7" r="4.5"/><circle cx="755.4" cy="213.3" r="4.5"/><circle cx="753.9" cy="172.6" r="4.5"/><circle cx="754.9" cy="212.5" r="4.5"/><circle cx="754.3" cy="216.1" r="4.5"/><circle cx="753.4" cy="156.1" r="4.5"/><circle cx="753.5" cy="219" r="4.5"/><circle cx="755" cy="221.6" r="4.5"/><circle cx="754.8" cy="170.8" r="4.5"/><circle cx="754.5" cy="183.2" r="4.5"/><circle cx="753.6" cy="236" r="4.5"/><circle cx="753.6" cy="163.3" r="4.5"/><circle cx="755.1" cy="243.3" r="4.5"/><circle cx="753.5" cy="230.1" r="4.5"/><circle cx="753.9" cy="250.2" r="4.5"/><circle cx="753.5" cy="260.7" r="4.5"/><circle cx="754" cy="159.7" r="4.5"/><circle cx="755.3" cy="170.7" r="4.5"/><circle cx="753.7" cy="166.3" r="4.5"/><circle cx="755.5" cy="200.5" r="4.5"/><circle cx="754.5" cy="201.8" r="4.5"/><circle cx="753.6" cy="202.3" r="4.5"/><circle cx="761" cy="140" r="4.5"/><circle cx="761" cy="262" r="4.5"/><circle cx="761.5" cy="140.3" r="4.5"/><circle cx="760.2" cy="253.2" r="4.5"/><circle cx="761" cy="172.2" r="4.5"/><circle cx="761.3" cy="188.1" r="4.5"/><circle cx="759.9" cy="256.4" r="4.5"/><circle cx="760.6" cy="196.8" r="4.5"/><circle cx="760.7" cy="238.7" r="4.5"/><circle cx="760.7" cy="180.9" r="4.5"/><circle cx="760.9" cy="258.8" r="4.5"/><circle cx="762" cy="146.6" r="4.5"/><circle cx="762" cy="212.9" r="4.5"/><circle cx="760.1" cy="180" r="4.5"/><circle cx="761.4" cy="254.1" r="4.5"/><circle cx="761.7" cy="181.8" r="4.5"/><circle cx="761" cy="234.1" r="4.5"/><circle cx="761.2" cy="205.3" r="4.5"/><circle cx="759.9" cy="160.6" r="4.5"/><circle cx="760.1" cy="167.3" r="4.5"/><circle cx="761.5" cy="206.9" r="4.5"/><circle cx="760.9" cy="207.8" r="4.5"/><circle cx="760.2" cy="160.4" r="4.5"/><circle cx="761.3" cy="258.6" r="4.5"/><circle cx="760.3" cy="204.9" r="4.5"/><circle cx="760.3" cy="147.4" r="4.5"/><circle cx="762.2" cy="235.1" r="4.5"/><circle cx="761.7" cy="219.7" r="4.5"/><circle cx="760" cy="183.5" r="4.5"/><circle cx="762.2" cy="198.3" r="4.5"/><circle cx="766" cy="200" r="4.5"/><circle cx="766" cy="262" r="4.5"/><circle cx="766.5" cy="259.5" r="4.5"/><circle cx="766.5" cy="211.2" r="4.5"/><circle cx="767" cy="245.8" r="4.5"/><circle cx="765.4" cy="202.6" r="4.5"/><circle cx="765.6" cy="226.4" r="4.5"/><circle cx="765.4" cy="223.6" r="4.5"/><circle cx="765.9" cy="213.3" r="4.5"/><circle cx="766.9" cy="239.8" r="4.5"/><circle cx="767.1" cy="238.4" r="4.5"/><circle cx="765.3" cy="204.2" r="4.5"/><circle cx="765.5" cy="234.1" r="4.5"/><circle cx="766.9" cy="250.7" r="4.5"/><circle cx="767" cy="247.2" r="4.5"/><circle cx="766" cy="222.2" r="4.5"/><circle cx="770" cy="195.5" r="4.5"/><circle cx="770" cy="217" r="4.5"/><circle cx="769.2" cy="195.7" r="4.5"/><circle cx="770.7" cy="208.7" r="4.5"/><circle cx="769.4" cy="198.1" r="4.5"/><circle cx="768.9" cy="205.4" r="4.5"/><circle cx="769.4" cy="213.9" r="4.5"/><circle cx="770" cy="231" r="4.5"/><circle cx="770" cy="262" r="4.5"/><circle cx="769" cy="246.1" r="4.5"/><circle cx="769.9" cy="251.7" r="4.5"/><circle cx="769.3" cy="249.3" r="4.5"/><circle cx="769.4" cy="243.4" r="4.5"/><circle cx="769.3" cy="256.5" r="4.5"/><circle cx="770" cy="231.5" r="4.5"/><circle cx="770" cy="257.3" r="4.5"/><circle cx="776" cy="210" r="4.5"/><circle cx="776" cy="262" r="4.5"/><circle cx="775.1" cy="253.8" r="4.5"/><circle cx="776.4" cy="248.9" r="4.5"/><circle cx="776.6" cy="211.6" r="4.5"/><circle cx="775.8" cy="253.4" r="4.5"/><circle cx="776.5" cy="249.3" r="4.5"/><circle cx="776.3" cy="229.8" r="4.5"/><circle cx="776.8" cy="217" r="4.5"/><circle cx="776.8" cy="253.2" r="4.5"/><circle cx="776" cy="240.8" r="4.5"/><circle cx="776.5" cy="211" r="4.5"/><circle cx="775.2" cy="251.8" r="4.5"/><circle cx="775.5" cy="231.2" r="4.5"/><circle cx="782.9" cy="167" r="4.5"/><circle cx="782.9" cy="262" r="4.5"/><circle cx="783.5" cy="232.1" r="4.5"/><circle cx="781.8" cy="204.7" r="4.5"/><circle cx="782.2" cy="209.5" r="4.5"/><circle cx="782.6" cy="201.6" r="4.5"/><circle cx="783.6" cy="212.2" r="4.5"/><circle cx="783.2" cy="186.6" r="4.5"/><circle cx="782.4" cy="211.4" r="4.5"/><circle cx="783.1" cy="207.5" r="4.5"/><circle cx="783.6" cy="201.6" r="4.5"/><circle cx="782.3" cy="195.8" r="4.5"/><circle cx="782.8" cy="247.7" r="4.5"/><circle cx="783.5" cy="187.7" r="4.5"/><circle cx="784" cy="251.4" r="4.5"/><circle cx="783.2" cy="216" r="4.5"/><circle cx="783.8" cy="231.1" r="4.5"/><circle cx="783.2" cy="171.1" r="4.5"/><circle cx="783" cy="247.2" r="4.5"/><circle cx="782.7" cy="256.4" r="4.5"/><circle cx="782.6" cy="207.3" r="4.5"/><circle cx="783.6" cy="208.3" r="4.5"/><circle cx="782.2" cy="226" r="4.5"/><circle cx="781.9" cy="177.2" r="4.5"/><circle cx="789" cy="200" r="4.5"/><circle cx="789" cy="262" r="4.5"/><circle cx="789.3" cy="233.1" r="4.5"/><circle cx="788.1" cy="225.6" r="4.5"/><circle cx="787.8" cy="253" r="4.5"/><circle cx="789.8" cy="205.1" r="4.5"/><circle cx="788.7" cy="215.3" r="4.5"/><circle cx="789.4" cy="231.8" r="4.5"/><circle cx="789.1" cy="253.4" r="4.5"/><circle cx="789.2" cy="235.5" r="4.5"/><circle cx="789.6" cy="214.5" r="4.5"/><circle cx="789.6" cy="257.6" r="4.5"/><circle cx="789.3" cy="256.6" r="4.5"/><circle cx="788.6" cy="219.6" r="4.5"/><circle cx="789.2" cy="203.6" r="4.5"/><circle cx="789.1" cy="206.4" r="4.5"/><circle cx="795" cy="230" r="4.5"/><circle cx="795" cy="262" r="4.5"/><circle cx="795.2" cy="260.3" r="4.5"/><circle cx="793.8" cy="240.8" r="4.5"/><circle cx="793.8" cy="241" r="4.5"/><circle cx="794.6" cy="230.2" r="4.5"/><circle cx="794.1" cy="249.9" r="4.5"/><circle cx="795" cy="252" r="4.5"/><circle cx="794.7" cy="252.8" r="4.5"/><circle cx="805" cy="225" r="4.5"/><circle cx="805" cy="262" r="4.5"/><circle cx="805.3" cy="253.6" r="4.5"/><circle cx="804.5" cy="243.2" r="4.5"/><circle cx="804" cy="236.8" r="4.5"/><circle cx="805" cy="255.6" r="4.5"/><circle cx="806" cy="252.3" r="4.5"/><circle cx="804.5" cy="239.9" r="4.5"/><circle cx="805.6" cy="258.1" r="4.5"/><circle cx="806" cy="238.8" r="4.5"/><circle cx="812.6" cy="189" r="4.5"/><circle cx="812.6" cy="223" r="4.5"/><circle cx="812.2" cy="214.3" r="4.5"/><circle cx="812.6" cy="217.6" r="4.5"/><circle cx="812.4" cy="194.1" r="4.5"/><circle cx="812.3" cy="207.7" r="4.5"/><circle cx="813.1" cy="201.8" r="4.5"/><circle cx="813.7" cy="193.9" r="4.5"/><circle cx="812.3" cy="195.9" r="4.5"/><circle cx="811.8" cy="218.2" r="4.5"/><circle cx="812.6" cy="234" r="4.5"/><circle cx="812.6" cy="262" r="4.5"/><circle cx="813.6" cy="260.7" r="4.5"/><circle cx="812.7" cy="235.2" r="4.5"/><circle cx="811.5" cy="240.7" r="4.5"/><circle cx="813.7" cy="243.3" r="4.5"/><circle cx="813.7" cy="244.6" r="4.5"/><circle cx="811.5" cy="256" r="4.5"/><circle cx="818" cy="215" r="4.5"/><circle cx="818" cy="262" r="4.5"/><circle cx="818.5" cy="242.4" r="4.5"/><circle cx="818.1" cy="247.9" r="4.5"/><circle cx="817.2" cy="231.1" r="4.5"/><circle cx="817.7" cy="220.8" r="4.5"/><circle cx="818.3" cy="240.9" r="4.5"/><circle cx="817.2" cy="255.8" r="4.5"/><circle cx="817" cy="232.7" r="4.5"/><circle cx="817.3" cy="250.9" r="4.5"/><circle cx="817.2" cy="218.1" r="4.5"/><circle cx="818.8" cy="232.2" r="4.5"/><circle cx="818.6" cy="248.5" r="4.5"/><circle cx="826" cy="180" r="4.5"/><circle cx="826" cy="262" r="4.5"/><circle cx="826.9" cy="208.5" r="4.5"/><circle cx="826.7" cy="222.7" r="4.5"/><circle cx="826.8" cy="202.7" r="4.5"/><circle cx="825.1" cy="232.4" r="4.5"/><circle cx="827" cy="205.3" r="4.5"/><circle cx="826.1" cy="227.5" r="4.5"/><circle cx="825" cy="230.7" r="4.5"/><circle cx="826.7" cy="205.3" r="4.5"/><circle cx="824.8" cy="207.9" r="4.5"/><circle cx="825.8" cy="229.4" r="4.5"/><circle cx="825.2" cy="184" r="4.5"/><circle cx="826.9" cy="225.4" r="4.5"/><circle cx="825.8" cy="244" r="4.5"/><circle cx="825" cy="236.1" r="4.5"/><circle cx="826.8" cy="212.4" r="4.5"/><circle cx="825.8" cy="255.6" r="4.5"/><circle cx="825.2" cy="232.2" r="4.5"/><circle cx="826" cy="221" r="4.5"/><circle cx="826.3" cy="227.5" r="4.5"/><circle cx="833" cy="161.6" r="4.5"/><circle cx="833" cy="262" r="4.5"/><circle cx="833.4" cy="186.7" r="4.5"/><circle cx="833.6" cy="206.3" r="4.5"/><circle cx="832.4" cy="177.7" r="4.5"/><circle cx="833.6" cy="254.1" r="4.5"/><circle cx="833.9" cy="240.8" r="4.5"/><circle cx="834.1" cy="259.3" r="4.5"/><circle cx="833.1" cy="234.6" r="4.5"/><circle cx="832" cy="164.7" r="4.5"/><circle cx="832.1" cy="224.4" r="4.5"/><circle cx="834.1" cy="209.2" r="4.5"/><circle cx="834" cy="181.3" r="4.5"/><circle cx="833.5" cy="225.7" r="4.5"/><circle cx="832.1" cy="192.7" r="4.5"/><circle cx="833.5" cy="214.7" r="4.5"/><circle cx="833.5" cy="212.1" r="4.5"/><circle cx="833.8" cy="220.8" r="4.5"/><circle cx="833.2" cy="245.3" r="4.5"/><circle cx="833.9" cy="226.6" r="4.5"/><circle cx="834.2" cy="225.7" r="4.5"/><circle cx="833.9" cy="214.8" r="4.5"/><circle cx="833.8" cy="197.6" r="4.5"/><circle cx="832.8" cy="230" r="4.5"/><circle cx="834" cy="247" r="4.5"/><circle cx="838.3" cy="161.6" r="4.5"/><circle cx="838.3" cy="262" r="4.5"/><circle cx="839.2" cy="226.6" r="4.5"/><circle cx="839.3" cy="261.2" r="4.5"/><circle cx="837.5" cy="190.1" r="4.5"/><circle cx="837.9" cy="209.2" r="4.5"/><circle cx="839.1" cy="250.4" r="4.5"/><circle cx="838.6" cy="167.9" r="4.5"/><circle cx="838" cy="230.9" r="4.5"/><circle cx="839.2" cy="176.1" r="4.5"/><circle cx="839.2" cy="242.2" r="4.5"/><circle cx="839" cy="226.8" r="4.5"/><circle cx="839.5" cy="235.5" r="4.5"/><circle cx="838.2" cy="260.3" r="4.5"/><circle cx="838.3" cy="259.2" r="4.5"/><circle cx="838.5" cy="239.5" r="4.5"/><circle cx="838.8" cy="164" r="4.5"/><circle cx="837.4" cy="250.6" r="4.5"/><circle cx="837.2" cy="205.4" r="4.5"/><circle cx="838.4" cy="247.9" r="4.5"/><circle cx="837.6" cy="195.2" r="4.5"/><circle cx="839.1" cy="205" r="4.5"/><circle cx="838.9" cy="175.8" r="4.5"/><circle cx="838.8" cy="210.7" r="4.5"/><circle cx="839.4" cy="204.3" r="4.5"/><circle cx="843" cy="165" r="4.5"/><circle cx="843" cy="262" r="4.5"/><circle cx="842.7" cy="194.9" r="4.5"/><circle cx="842.3" cy="226.2" r="4.5"/><circle cx="842.2" cy="195.7" r="4.5"/><circle cx="843" cy="247.8" r="4.5"/><circle cx="842.3" cy="180.1" r="4.5"/><circle cx="844" cy="234.2" r="4.5"/><circle cx="842.7" cy="172.8" r="4.5"/><circle cx="842.6" cy="183.4" r="4.5"/><circle cx="842" cy="196.8" r="4.5"/><circle cx="842.7" cy="235.8" r="4.5"/><circle cx="844.1" cy="190.6" r="4.5"/><circle cx="842.4" cy="185.8" r="4.5"/><circle cx="842.2" cy="234.8" r="4.5"/><circle cx="843.2" cy="181.5" r="4.5"/><circle cx="842.8" cy="203" r="4.5"/><circle cx="843" cy="238.1" r="4.5"/><circle cx="843.8" cy="244.4" r="4.5"/><circle cx="843" cy="237.6" r="4.5"/><circle cx="844.2" cy="256.9" r="4.5"/><circle cx="843" cy="247.2" r="4.5"/><circle cx="842.2" cy="212.7" r="4.5"/><circle cx="842.9" cy="209.6" r="4.5"/><circle cx="742" cy="152.4" r="4.5"/><circle cx="742" cy="158.5" r="4.5"/><circle cx="742.2" cy="158.1" r="4.5"/></g>
<g fill="#619CFF"><circle cx="705" cy="322" r="4.5"/><circle cx="705" cy="330" r="4.5"/><circle cx="704" cy="325.2" r="4.5"/><circle cx="712" cy="350" r="4.5"/><circle cx="712" cy="358" r="4.5"/><circle cx="714" cy="354.1" r="4.5"/><circle cx="720" cy="358" r="4.5"/><circle cx="720" cy="366" r="4.5"/><circle cx="720.3" cy="365.2" r="4.5"/><circle cx="728" cy="362" r="4.5"/><circle cx="728" cy="372" r="4.5"/><circle cx="725" cy="366.4" r="4.5"/><circle cx="735" cy="366" r="4.5"/><circle cx="735" cy="375" r="4.5"/><circle cx="736.8" cy="370.7" r="4.5"/><circle cx="742" cy="368" r="4.5"/><circle cx="742" cy="378" r="4.5"/><circle cx="741.1" cy="369.1" r="4.5"/><circle cx="749" cy="372" r="4.5"/><circle cx="749" cy="382" r="4.5"/><circle cx="750.1" cy="378.1" r="4.5"/><circle cx="755" cy="376" r="4.5"/><circle cx="755" cy="386" r="4.5"/><circle cx="752.8" cy="376" r="4.5"/><circle cx="761" cy="372" r="4.5"/><circle cx="761" cy="380" r="4.5"/><circle cx="761.2" cy="376.4" r="4.5"/><circle cx="767" cy="370" r="4.5"/><circle cx="767" cy="378" r="4.5"/><circle cx="768.6" cy="374.8" r="4.5"/><circle cx="773" cy="368" r="4.5"/><circle cx="773" cy="376" r="4.5"/><circle cx="770.2" cy="373.6" r="4.5"/><circle cx="779" cy="372" r="4.5"/><circle cx="779" cy="381" r="4.5"/><circle cx="778" cy="378.4" r="4.5"/><circle cx="785" cy="374" r="4.5"/><circle cx="785" cy="382" r="4.5"/><circle cx="786" cy="380.4" r="4.5"/><circle cx="791" cy="366" r="4.5"/><circle cx="791" cy="376" r="4.5"/><circle cx="789.7" cy="370.4" r="4.5"/><circle cx="797" cy="362" r="4.5"/><circle cx="797" cy="370" r="4.5"/><circle cx="796.5" cy="365.7" r="4.5"/><circle cx="803" cy="360" r="4.5"/><circle cx="803" cy="368" r="4.5"/><circle cx="802.1" cy="360.5" r="4.5"/><circle cx="809" cy="362" r="4.5"/><circle cx="809" cy="371" r="4.5"/><circle cx="807.3" cy="365.8" r="4.5"/><circle cx="815" cy="365" r="4.5"/><circle cx="815" cy="373" r="4.5"/><circle cx="813.4" cy="369.5" r="4.5"/><circle cx="821" cy="363" r="4.5"/><circle cx="821" cy="372" r="4.5"/><circle cx="820.1" cy="368.8" r="4.5"/><circle cx="827" cy="360" r="4.5"/><circle cx="827" cy="370" r="4.5"/><circle cx="825.3" cy="365.8" r="4.5"/><circle cx="833" cy="355" r="4.5"/><circle cx="833" cy="364" r="4.5"/><circle cx="833.5" cy="363.5" r="4.5"/><circle cx="839" cy="350" r="4.5"/><circle cx="839" cy="358" r="4.5"/><circle cx="840.5" cy="357" r="4.5"/><circle cx="844" cy="343" r="4.5"/><circle cx="844" cy="352" r="4.5"/><circle cx="844.2" cy="348" r="4.5"/><circle cx="708.4" cy="371.5" r="4.5"/><circle cx="708.4" cy="378.6" r="4.5"/><circle cx="705.6" cy="375" r="4.5"/><circle cx="782.8" cy="388.7" r="4.5"/><circle cx="782.8" cy="388.7" r="4.5"/><circle cx="782.5" cy="388.7" r="4.5"/><circle cx="795" cy="381" r="4.5"/><circle cx="795" cy="381" r="4.5"/><circle cx="794.6" cy="381" r="4.5"/><circle cx="829" cy="374" r="4.5"/><circle cx="829" cy="374" r="4.5"/><circle cx="828.9" cy="374" r="4.5"/></g>
<g fill="#619CFF"><circle cx="856.5" cy="253" r="4.5"/><circle cx="857" cy="258.6" r="4.5"/><circle cx="856.8" cy="264.1" r="4.5"/><circle cx="856.8" cy="269.7" r="4.5"/><circle cx="856.9" cy="275.2" r="4.5"/><circle cx="857.5" cy="280.8" r="4.5"/><circle cx="857.4" cy="286.3" r="4.5"/><circle cx="856.6" cy="291.9" r="4.5"/><circle cx="856.8" cy="297.4" r="4.5"/><circle cx="857.1" cy="303" r="4.5"/><circle cx="893.2" cy="220" r="4.5"/><circle cx="893.1" cy="225.4" r="4.5"/><circle cx="892.7" cy="230.8" r="4.5"/><circle cx="893.2" cy="236.2" r="4.5"/><circle cx="893" cy="241.6" r="4.5"/><circle cx="893" cy="247.1" r="4.5"/><circle cx="893.5" cy="252.5" r="4.5"/><circle cx="892.7" cy="257.9" r="4.5"/><circle cx="893.4" cy="263.3" r="4.5"/><circle cx="893.2" cy="268.7" r="4.5"/><circle cx="893.2" cy="274.1" r="4.5"/><circle cx="892.8" cy="279.5" r="4.5"/><circle cx="892.8" cy="284.9" r="4.5"/><circle cx="893.2" cy="290.4" r="4.5"/><circle cx="893.1" cy="295.8" r="4.5"/><circle cx="892.5" cy="301.2" r="4.5"/><circle cx="892.6" cy="306.6" r="4.5"/><circle cx="893.2" cy="312" r="4.5"/><circle cx="896.4" cy="311" r="4.5"/><circle cx="897" cy="316.3" r="4.5"/><circle cx="896.5" cy="321.5" r="4.5"/><circle cx="897.2" cy="326.8" r="4.5"/><circle cx="896.8" cy="332.1" r="4.5"/><circle cx="897.1" cy="337.4" r="4.5"/><circle cx="896.8" cy="342.6" r="4.5"/><circle cx="897.4" cy="347.9" r="4.5"/><circle cx="896.4" cy="353.2" r="4.5"/><circle cx="897.6" cy="358.5" r="4.5"/><circle cx="897.2" cy="363.7" r="4.5"/><circle cx="896.4" cy="369" r="4.5"/><circle cx="866.3" cy="350" r="4.5"/><circle cx="866.8" cy="355.5" r="4.5"/><circle cx="867.3" cy="361" r="4.5"/><circle cx="866.6" cy="366.5" r="4.5"/><circle cx="866.2" cy="372" r="4.5"/><circle cx="867.2" cy="377.5" r="4.5"/><circle cx="866.4" cy="383" r="4.5"/><circle cx="880.7" cy="318" r="4.5"/><circle cx="881.3" cy="323.3" r="4.5"/><circle cx="881.1" cy="328.7" r="4.5"/><circle cx="881.5" cy="334" r="4.5"/><circle cx="881.4" cy="339.3" r="4.5"/><circle cx="880.4" cy="344.7" r="4.5"/><circle cx="881.2" cy="350" r="4.5"/><circle cx="902.3" cy="296" r="4.5"/><circle cx="902.1" cy="301.6" r="4.5"/><circle cx="902.3" cy="307.1" r="4.5"/><circle cx="902.2" cy="312.7" r="4.5"/><circle cx="902" cy="318.3" r="4.5"/><circle cx="902.4" cy="323.9" r="4.5"/><circle cx="902.2" cy="329.4" r="4.5"/><circle cx="901.7" cy="335" r="4.5"/></g>
<g fill="#619CFF"><circle cx="729.5" cy="188.5" r="4.5"/><circle cx="729.9" cy="193.6" r="4.5"/><circle cx="729.6" cy="198.6" r="4.5"/><circle cx="729.9" cy="203.7" r="4.5"/><circle cx="704.4" cy="183" r="4.5"/><circle cx="704.6" cy="188" r="4.5"/><circle cx="704.7" cy="193" r="4.5"/><circle cx="705" cy="198" r="4.5"/><circle cx="704.5" cy="203" r="4.5"/><circle cx="704.4" cy="208" r="4.5"/><circle cx="742.3" cy="152.4" r="4.5"/><circle cx="742" cy="158.5" r="4.5"/><circle cx="769.6" cy="195.5" r="4.5"/><circle cx="770.6" cy="200.9" r="4.5"/><circle cx="769.4" cy="206.2" r="4.5"/><circle cx="770.2" cy="211.6" r="4.5"/><circle cx="770.5" cy="217" r="4.5"/><circle cx="812.9" cy="189" r="4.5"/><circle cx="812.6" cy="194.7" r="4.5"/><circle cx="812.3" cy="200.3" r="4.5"/><circle cx="812.8" cy="206" r="4.5"/><circle cx="812.2" cy="211.7" r="4.5"/><circle cx="813.1" cy="217.3" r="4.5"/><circle cx="812.6" cy="223" r="4.5"/><circle cx="856.9" cy="226" r="4.5"/><circle cx="856.9" cy="234" r="4.5"/><circle cx="860.6" cy="358" r="4.5"/><circle cx="859.5" cy="363.4" r="4.5"/><circle cx="860.3" cy="368.8" r="4.5"/><circle cx="859.6" cy="374.2" r="4.5"/><circle cx="859.7" cy="379.6" r="4.5"/><circle cx="859.7" cy="385" r="4.5"/></g>
<g fill="#619CFF"><circle cx="782.9" cy="86.7" r="4.5"/><circle cx="857.2" cy="104" r="4.5"/><circle cx="892.3" cy="106.6" r="4.5"/><circle cx="742.4" cy="114.4" r="4.5"/><circle cx="742.4" cy="132.6" r="4.5"/><circle cx="729.4" cy="142.4" r="4.5"/><circle cx="782.9" cy="129.6" r="4.5"/><circle cx="782.9" cy="143.4" r="4.5"/><circle cx="812.6" cy="134.8" r="4.5"/><circle cx="838.6" cy="131.3" r="4.5"/><circle cx="838.6" cy="151.6" r="4.5"/><circle cx="812.6" cy="165.8" r="4.5"/><circle cx="782.9" cy="166.8" r="4.5"/><circle cx="857.2" cy="188.5" r="4.5"/><circle cx="857.2" cy="203.7" r="4.5"/><circle cx="805.7" cy="201.5" r="4.5"/><circle cx="774.3" cy="196" r="4.5"/><circle cx="716.8" cy="198.3" r="4.5"/><circle cx="857" cy="103.9" r="4.5"/><circle cx="857" cy="188.6" r="4.5"/><circle cx="857" cy="204.8" r="4.5"/><circle cx="857" cy="209.4" r="4.5"/><circle cx="857" cy="241.8" r="4.5"/><circle cx="728" cy="141.6" r="4.5"/><circle cx="881" cy="267" r="4.5"/><circle cx="881" cy="279" r="4.5"/><circle cx="867.6" cy="310" r="4.5"/><circle cx="867.6" cy="350" r="4.5"/><circle cx="708.4" cy="371.5" r="4.5"/><circle cx="708.4" cy="378.6" r="4.5"/><circle cx="782.8" cy="388.7" r="4.5"/><circle cx="795" cy="381" r="4.5"/><circle cx="829" cy="374" r="4.5"/><circle cx="716.6" cy="232.5" r="4.5"/><circle cx="989.6" cy="262.7" r="4.5"/><circle cx="1095.5" cy="221.8" r="4.5"/><circle cx="1161.2" cy="235.6" r="4.5"/><circle cx="1161.2" cy="247.4" r="4.5"/><circle cx="1161.2" cy="261.6" r="4.5"/><circle cx="1174" cy="255.6" r="4.5"/><circle cx="1174" cy="262.7" r="4.5"/><circle cx="1159.8" cy="275.7" r="4.5"/><circle cx="1164" cy="280.5" r="4.5"/><circle cx="1164" cy="288.7" r="4.5"/><circle cx="1174" cy="290" r="4.5"/><circle cx="1158" cy="302.5" r="4.5"/><circle cx="1125.3" cy="297.7" r="4.5"/><circle cx="967.8" cy="321.8" r="4.5"/><circle cx="980.8" cy="328.9" r="4.5"/><circle cx="989.6" cy="321.8" r="4.5"/><circle cx="964.3" cy="337.9" r="4.5"/><circle cx="964.3" cy="347.8" r="4.5"/><circle cx="964.3" cy="353" r="4.5"/><circle cx="964.3" cy="359" r="4.5"/><circle cx="964.3" cy="365.6" r="4.5"/><circle cx="947.7" cy="376.2" r="4.5"/><circle cx="947.7" cy="383.8" r="4.5"/><circle cx="964.3" cy="381" r="4.5"/><circle cx="1014.6" cy="355.4" r="4.5"/><circle cx="1031.2" cy="342" r="4.5"/><circle cx="1031.2" cy="347" r="4.5"/><circle cx="1031.2" cy="352.6" r="4.5"/><circle cx="1038.7" cy="361.6" r="4.5"/><circle cx="1059.6" cy="320" r="4.5"/><circle cx="1061.2" cy="350.7" r="4.5"/><circle cx="1061.2" cy="355" r="4.5"/><circle cx="1061.2" cy="365.6" r="4.5"/><circle cx="1073" cy="339.6" r="4.5"/><circle cx="1080.1" cy="346.7" r="4.5"/><circle cx="1073" cy="355" r="4.5"/><circle cx="1073" cy="363.2" r="4.5"/><circle cx="1080.1" cy="321.8" r="4.5"/><circle cx="1091.2" cy="311.2" r="4.5"/><circle cx="1095.5" cy="327.8" r="4.5"/><circle cx="1103" cy="356.1" r="4.5"/><circle cx="1116.8" cy="312.4" r="4.5"/><circle cx="1116.8" cy="317.1" r="4.5"/><circle cx="1118" cy="325.4" r="4.5"/><circle cx="1125.3" cy="327" r="4.5"/><circle cx="1115.6" cy="334.8" r="4.5"/><circle cx="1125.3" cy="353" r="4.5"/></g>
<g fill="#00BA38"><circle cx="838.6" cy="21.7" r="4.5"/><circle cx="780.5" cy="361" r="4.5"/></g>
<g fill="#F8766D"><circle cx="849.5" cy="336" r="4.5"/><circle cx="849.5" cy="343" r="4.5"/><circle cx="849.5" cy="349" r="4.5"/></g>
<ellipse cx="704.9" cy="201.6" rx="4" ry="1.3" fill="#00A94F"/><ellipse cx="704.9" cy="217.6" rx="4.2" ry="2.6" fill="#00A94F"/>
<polygon fill="#999999" fill-opacity="0.4" points="703,302.7 709.5,302.9 716,303.1 722.5,303.4 728.9,303.6 735.4,303.8 741.9,304 748.4,304.3 754.9,304.5 761.4,304.7 767.8,304.9 774.3,305.1 780.8,305.3 787.3,305.5 793.8,305.7 800.2,305.9 806.7,306.1 813.2,306.3 819.7,306.5 826.2,306.6 832.7,306.8 839.1,307 845.6,307.2 852.1,307.4 858.6,307.5 865.1,307.7 871.6,307.9 878,308 884.5,308.2 891,308.3 897.5,308.5 897.5,335.1 891,334.9 884.5,334.7 878,334.4 871.6,334.2 865.1,334 858.6,333.8 852.1,333.5 845.6,333.3 839.1,333.1 832.7,332.9 826.2,332.7 819.7,332.5 813.2,332.3 806.7,332.1 800.2,331.9 793.8,331.7 787.3,331.5 780.8,331.3 774.3,331.1 767.8,331 761.4,330.8 754.9,330.6 748.4,330.4 741.9,330.3 735.4,330.1 728.9,329.9 722.5,329.8 716,329.6 709.5,329.5 703,329.3"/>
<line x1="706" y1="316" x2="897.5" y2="321.8" stroke="#F8766D" stroke-width="4.5"/>
<polygon fill="#999999" fill-opacity="0.4" points="845.5,249 881,227 881,342 845.5,332"/>
<polygon fill="#999999" fill-opacity="0.4" points="706,317.7 710.6,316.7 715.3,315.7 720,314.7 724.6,313.7 729.2,312.7 733.9,311.7 738.5,310.7 743.2,309.7 747.9,308.6 752.5,307.6 757.1,306.6 761.8,305.5 766.5,304.5 771.1,303.4 775.8,302.4 780.4,301.3 785,300.3 789.7,299.2 794.4,298.1 799,297.1 803.6,296 808.3,294.9 813,293.9 817.6,292.8 822.2,291.7 826.9,290.6 831.5,289.6 836.2,288.5 840.9,287.4 845.5,286.3 845.5,296.9 840.9,297.8 836.2,298.6 831.5,299.5 826.9,300.3 822.2,301.2 817.6,302.1 813,302.9 808.3,303.8 803.6,304.7 799,305.5 794.4,306.4 789.7,307.3 785,308.1 780.4,309 775.8,309.9 771.1,310.8 766.5,311.7 761.8,312.6 757.1,313.5 752.5,314.4 747.9,315.3 743.2,316.2 738.5,317.1 733.9,318 729.2,319 724.6,319.9 720,320.8 715.3,321.8 710.6,322.7 706,323.7"/>
<line x1="706" y1="320.7" x2="881" y2="284" stroke="#00BA38" stroke-width="4.5"/>
<polygon fill="#999999" fill-opacity="0.4" points="703,289.7 718.7,290.2 734.4,290.6 750,291 765.7,291.4 781.4,291.6 797.1,291.9 812.8,292 828.5,292.1 844.1,292.1 859.8,292 875.5,291.9 891.2,291.7 906.9,291.6 922.6,291.4 938.2,291.2 953.9,291 969.6,290.8 985.3,290.5 1001,290.3 1016.7,290 1032.3,289.8 1048,289.5 1063.7,289.3 1079.4,289 1095.1,288.8 1110.8,288.5 1126.5,288.2 1142.1,288 1157.8,287.7 1173.5,287.4 1173.5,309 1157.8,308.4 1142.1,307.8 1126.5,307.2 1110.8,306.6 1095.1,306 1079.4,305.5 1063.7,304.9 1048,304.3 1032.3,303.7 1016.7,303.2 1001,302.6 985.3,302 969.6,301.5 953.9,300.9 938.2,300.4 922.6,299.9 906.9,299.4 891.2,298.9 875.5,298.4 859.8,298 844.1,297.6 828.5,297.3 812.8,297 797.1,296.9 781.4,296.8 765.7,296.7 750,296.7 734.4,296.8 718.7,296.9 703,297.1"/>
<line x1="703" y1="293.4" x2="1173.5" y2="298.2" stroke="#619CFF" stroke-width="4.5"/>
<rect x="681.7" y="4.1" width="515.5" height="406.1" fill="none" stroke="#5a5a5a" stroke-width="1.5"/>
<line x1="702" y1="410.2" x2="702" y2="416.2" stroke="#333" stroke-width="1.5"/>
<line x1="845.5" y1="410.2" x2="845.5" y2="416.2" stroke="#333" stroke-width="1.5"/>
<line x1="989" y1="410.2" x2="989" y2="416.2" stroke="#333" stroke-width="1.5"/>
<line x1="1132.5" y1="410.2" x2="1132.5" y2="416.2" stroke="#333" stroke-width="1.5"/>
<line x1="675.7" y1="397.5" x2="681.7" y2="397.5" stroke="#333" stroke-width="1.5"/>
<line x1="675.7" y1="313.3" x2="681.7" y2="313.3" stroke="#333" stroke-width="1.5"/>
<line x1="675.7" y1="229.1" x2="681.7" y2="229.1" stroke="#333" stroke-width="1.5"/>
<line x1="675.7" y1="144.9" x2="681.7" y2="144.9" stroke="#333" stroke-width="1.5"/>
<line x1="675.7" y1="60.7" x2="681.7" y2="60.7" stroke="#333" stroke-width="1.5"/>
<text x="702.2" y="436" class="tl" text-anchor="end">0</text>
<text x="845.7" y="436" class="tl" text-anchor="end">2000</text>
<text x="989.2" y="436" class="tl" text-anchor="end">4000</text>
<text x="1132.7" y="436" class="tl" text-anchor="end">6000</text>
<text x="671.5" y="405.5" class="tl" text-anchor="end">0</text>
<text x="671.5" y="321.3" class="tl" text-anchor="end">10</text>
<text x="671.5" y="237.1" class="tl" text-anchor="end">20</text>
<text x="671.5" y="152.9" class="tl" text-anchor="end">30</text>
<text x="671.5" y="68.7" class="tl" text-anchor="end">40</text>
<text x="938.5" y="464" class="at" text-anchor="middle">MAP</text>
<text transform="translate(638.5,208) rotate(-90)" class="at" text-anchor="middle">Fine root N</text>
<text transform="translate(916.2,72.5) scale(0.972,1)" class="an" fill="#FF0000">R<tspan dy="-8.6" font-size="14">2</tspan><tspan dy="8.6">&lt;0.01</tspan></text>
<text transform="translate(1015.5,72.5) scale(0.972,1)" class="an" fill="#FF0000"><tspan font-style="italic">P</tspan>&gt;0.05</text>
<text transform="translate(916.2,118) scale(1.0,1)" class="an" fill="#00B050">R<tspan dy="-8.6" font-size="14">2</tspan><tspan dy="8.6">=0.01</tspan></text>
<text transform="translate(1015.5,118) scale(0.972,1)" class="an" fill="#00B050"><tspan font-style="italic">P</tspan>&gt;0.05</text>
<text transform="translate(916.2,163.3) scale(0.972,1)" class="an" fill="#0070C0">R<tspan dy="-8.6" font-size="14">2</tspan><tspan dy="8.6">&lt;0.01</tspan></text>
<text transform="translate(1015.5,163.3) scale(0.972,1)" class="an" fill="#0070C0"><tspan font-style="italic">P</tspan>&gt;0.05</text>
<rect x="71.3" y="510.8" width="509" height="405.9" fill="#fff"/>
<line x1="155.4" y1="510.8" x2="155.4" y2="916.7" stroke="#EBEBEB" stroke-width="0.8"/>
<line x1="299.5" y1="510.8" x2="299.5" y2="916.7" stroke="#EBEBEB" stroke-width="0.8"/>
<line x1="443.7" y1="510.8" x2="443.7" y2="916.7" stroke="#EBEBEB" stroke-width="0.8"/>
<line x1="71.3" y1="831.3" x2="580.3" y2="831.3" stroke="#EBEBEB" stroke-width="0.8"/>
<line x1="71.3" y1="734.9" x2="580.3" y2="734.9" stroke="#EBEBEB" stroke-width="0.8"/>
<line x1="71.3" y1="638.5" x2="580.3" y2="638.5" stroke="#EBEBEB" stroke-width="0.8"/>
<line x1="71.3" y1="542.1" x2="580.3" y2="542.1" stroke="#EBEBEB" stroke-width="0.8"/>
<line x1="83.3" y1="510.8" x2="83.3" y2="916.7" stroke="#E6E6E6" stroke-width="1.3"/>
<line x1="227.5" y1="510.8" x2="227.5" y2="916.7" stroke="#E6E6E6" stroke-width="1.3"/>
<line x1="371.6" y1="510.8" x2="371.6" y2="916.7" stroke="#E6E6E6" stroke-width="1.3"/>
<line x1="515.8" y1="510.8" x2="515.8" y2="916.7" stroke="#E6E6E6" stroke-width="1.3"/>
<line x1="71.3" y1="879.5" x2="580.3" y2="879.5" stroke="#E6E6E6" stroke-width="1.3"/>
<line x1="71.3" y1="783.1" x2="580.3" y2="783.1" stroke="#E6E6E6" stroke-width="1.3"/>
<line x1="71.3" y1="686.7" x2="580.3" y2="686.7" stroke="#E6E6E6" stroke-width="1.3"/>
<line x1="71.3" y1="590.3" x2="580.3" y2="590.3" stroke="#E6E6E6" stroke-width="1.3"/>
<g fill="#F8766D"><circle cx="280" cy="798.2" r="4.5"/><circle cx="280" cy="804" r="4.5"/><circle cx="256.4" cy="841.3" r="4.5"/><circle cx="256.4" cy="850" r="4.5"/><circle cx="256.4" cy="860" r="4.5"/><circle cx="256.4" cy="870" r="4.5"/><circle cx="256.4" cy="878.7" r="4.5"/><circle cx="231" cy="858.6" r="4.5"/></g>
<g fill="#619CFF"><circle cx="93" cy="831" r="4.5"/><circle cx="93" cy="860" r="4.5"/><circle cx="93.5" cy="849.3" r="4.5"/><circle cx="92.3" cy="846.2" r="4.5"/><circle cx="94" cy="832.6" r="4.5"/><circle cx="92.8" cy="841.3" r="4.5"/><circle cx="93.8" cy="855.9" r="4.5"/><circle cx="94" cy="842.3" r="4.5"/><circle cx="94.2" cy="852.9" r="4.5"/><circle cx="93.1" cy="857.4" r="4.5"/><circle cx="97" cy="825" r="4.5"/><circle cx="97" cy="866" r="4.5"/><circle cx="95.7" cy="838.8" r="4.5"/><circle cx="97.7" cy="852.1" r="4.5"/><circle cx="98.4" cy="860.8" r="4.5"/><circle cx="97.4" cy="842.6" r="4.5"/><circle cx="96.8" cy="863.7" r="4.5"/><circle cx="96.3" cy="835.3" r="4.5"/><circle cx="95.5" cy="828.6" r="4.5"/><circle cx="98" cy="837.7" r="4.5"/><circle cx="96.6" cy="863.9" r="4.5"/><circle cx="96.2" cy="861" r="4.5"/><circle cx="96.5" cy="859.8" r="4.5"/><circle cx="98.3" cy="846.8" r="4.5"/><circle cx="101.5" cy="808" r="4.5"/><circle cx="101.5" cy="869" r="4.5"/><circle cx="102.7" cy="827.5" r="4.5"/><circle cx="100.8" cy="854.8" r="4.5"/><circle cx="102.2" cy="865" r="4.5"/><circle cx="101.4" cy="863.9" r="4.5"/><circle cx="100.1" cy="866.4" r="4.5"/><circle cx="100.6" cy="849.7" r="4.5"/><circle cx="102.8" cy="861.1" r="4.5"/><circle cx="101.7" cy="854.5" r="4.5"/><circle cx="101.3" cy="847.9" r="4.5"/><circle cx="100.5" cy="816.7" r="4.5"/><circle cx="102.4" cy="841" r="4.5"/><circle cx="102.5" cy="812.1" r="4.5"/><circle cx="100.5" cy="852.5" r="4.5"/><circle cx="101.6" cy="816.7" r="4.5"/><circle cx="102.1" cy="841.3" r="4.5"/><circle cx="100.7" cy="823.2" r="4.5"/><circle cx="101.9" cy="868.4" r="4.5"/><circle cx="101.1" cy="821.6" r="4.5"/><circle cx="106" cy="776" r="4.5"/><circle cx="106" cy="871" r="4.5"/><circle cx="106.4" cy="841.3" r="4.5"/><circle cx="106.5" cy="816.3" r="4.5"/><circle cx="106.9" cy="803" r="4.5"/><circle cx="107" cy="863.5" r="4.5"/><circle cx="107.4" cy="826.5" r="4.5"/><circle cx="105.2" cy="839.9" r="4.5"/><circle cx="104.6" cy="846.9" r="4.5"/><circle cx="105.4" cy="859.2" r="4.5"/><circle cx="104.6" cy="864.9" r="4.5"/><circle cx="105.8" cy="806" r="4.5"/><circle cx="106.3" cy="870.3" r="4.5"/><circle cx="107.1" cy="817.5" r="4.5"/><circle cx="106" cy="787.4" r="4.5"/><circle cx="106.3" cy="794.2" r="4.5"/><circle cx="104.8" cy="820.5" r="4.5"/><circle cx="104.7" cy="810.3" r="4.5"/><circle cx="106.1" cy="854.1" r="4.5"/><circle cx="105.4" cy="840.3" r="4.5"/><circle cx="105.4" cy="807.3" r="4.5"/><circle cx="105.4" cy="816.8" r="4.5"/><circle cx="104.7" cy="826.9" r="4.5"/><circle cx="107.2" cy="815.5" r="4.5"/><circle cx="106.3" cy="828.3" r="4.5"/><circle cx="106.1" cy="780.8" r="4.5"/><circle cx="104.6" cy="803.7" r="4.5"/><circle cx="107.1" cy="779.1" r="4.5"/><circle cx="106.2" cy="789.6" r="4.5"/><circle cx="104.5" cy="790" r="4.5"/><circle cx="111" cy="776" r="4.5"/><circle cx="111" cy="871" r="4.5"/><circle cx="111.5" cy="778.8" r="4.5"/><circle cx="110.9" cy="846.7" r="4.5"/><circle cx="111.5" cy="814.1" r="4.5"/><circle cx="112.2" cy="828.3" r="4.5"/><circle cx="110.2" cy="794.5" r="4.5"/><circle cx="112" cy="797.3" r="4.5"/><circle cx="110.5" cy="847" r="4.5"/><circle cx="111.2" cy="812.7" r="4.5"/><circle cx="110.1" cy="779.6" r="4.5"/><circle cx="110.8" cy="836.2" r="4.5"/><circle cx="111.8" cy="785.3" r="4.5"/><circle cx="110.7" cy="790.2" r="4.5"/><circle cx="112.1" cy="814.3" r="4.5"/><circle cx="111" cy="847" r="4.5"/><circle cx="111.3" cy="776.5" r="4.5"/><circle cx="111.8" cy="780.9" r="4.5"/><circle cx="111.2" cy="826.6" r="4.5"/><circle cx="112.1" cy="857.1" r="4.5"/><circle cx="111.5" cy="819" r="4.5"/><circle cx="109.8" cy="803.6" r="4.5"/><circle cx="112" cy="811.3" r="4.5"/><circle cx="111.8" cy="814.3" r="4.5"/><circle cx="110.1" cy="822.4" r="4.5"/><circle cx="112.2" cy="860.7" r="4.5"/><circle cx="111.2" cy="795.1" r="4.5"/><circle cx="112.5" cy="813.4" r="4.5"/><circle cx="110.5" cy="802.2" r="4.5"/><circle cx="110.2" cy="779.4" r="4.5"/><circle cx="116" cy="775" r="4.5"/><circle cx="116" cy="871" r="4.5"/><circle cx="115.7" cy="813.1" r="4.5"/><circle cx="117.2" cy="843.6" r="4.5"/><circle cx="116.1" cy="866.9" r="4.5"/><circle cx="115.1" cy="825.2" r="4.5"/><circle cx="117.4" cy="777" r="4.5"/><circle cx="115" cy="789.3" r="4.5"/><circle cx="115" cy="821.8" r="4.5"/><circle cx="116.4" cy="869.6" r="4.5"/><circle cx="115.6" cy="866" r="4.5"/><circle cx="115.1" cy="783.5" r="4.5"/><circle cx="116.5" cy="855.1" r="4.5"/><circle cx="116.4" cy="806.5" r="4.5"/><circle cx="116" cy="862.3" r="4.5"/><circle cx="115.5" cy="863" r="4.5"/><circle cx="116.4" cy="797.9" r="4.5"/><circle cx="115" cy="832.9" r="4.5"/><circle cx="116.4" cy="830.1" r="4.5"/><circle cx="115.3" cy="815.2" r="4.5"/><circle cx="116.6" cy="818.3" r="4.5"/><circle cx="114.7" cy="838.4" r="4.5"/><circle cx="115.1" cy="861.2" r="4.5"/><circle cx="115.6" cy="825.7" r="4.5"/><circle cx="116.8" cy="829.9" r="4.5"/><circle cx="114.9" cy="824.8" r="4.5"/><circle cx="117.4" cy="820.2" r="4.5"/><circle cx="114.8" cy="860.6" r="4.5"/><circle cx="116.4" cy="806" r="4.5"/><circle cx="117.3" cy="795.5" r="4.5"/><circle cx="121" cy="779" r="4.5"/><circle cx="121" cy="871" r="4.5"/><circle cx="121.6" cy="806.7" r="4.5"/><circle cx="120.1" cy="798.8" r="4.5"/><circle cx="121.2" cy="848.1" r="4.5"/><circle cx="120.5" cy="864" r="4.5"/><circle cx="121.1" cy="823" r="4.5"/><circle cx="121.4" cy="829.1" r="4.5"/><circle cx="121.8" cy="863.4" r="4.5"/><circle cx="122.1" cy="782.1" r="4.5"/><circle cx="121.9" cy="796.1" r="4.5"/><circle cx="121.7" cy="783.6" r="4.5"/><circle cx="120.1" cy="812.6" r="4.5"/><circle cx="120.1" cy="839" r="4.5"/><circle cx="121.3" cy="835.7" r="4.5"/><circle cx="122.3" cy="784.9" r="4.5"/><circle cx="121.1" cy="790.6" r="4.5"/><circle cx="120.4" cy="816.6" r="4.5"/><circle cx="121.8" cy="846.1" r="4.5"/><circle cx="121.1" cy="850.3" r="4.5"/><circle cx="120.7" cy="809.3" r="4.5"/><circle cx="120.9" cy="860.4" r="4.5"/><circle cx="121.8" cy="823.2" r="4.5"/><circle cx="120.6" cy="817.9" r="4.5"/><circle cx="120.4" cy="826.8" r="4.5"/><circle cx="119.5" cy="865.3" r="4.5"/><circle cx="120.2" cy="802.1" r="4.5"/><circle cx="122.1" cy="786.7" r="4.5"/><circle cx="121" cy="799.8" r="4.5"/><circle cx="126" cy="779" r="4.5"/><circle cx="126" cy="872" r="4.5"/><circle cx="125" cy="797.4" r="4.5"/><circle cx="125.1" cy="815" r="4.5"/><circle cx="127.1" cy="866.4" r="4.5"/><circle cx="126.5" cy="807.2" r="4.5"/><circle cx="125.5" cy="802.6" r="4.5"/><circle cx="125.6" cy="854.4" r="4.5"/><circle cx="125.5" cy="850.8" r="4.5"/><circle cx="126" cy="780.2" r="4.5"/><circle cx="125.8" cy="820.4" r="4.5"/><circle cx="126.6" cy="801.9" r="4.5"/><circle cx="125.4" cy="796.7" r="4.5"/><circle cx="126.8" cy="782.9" r="4.5"/><circle cx="126.9" cy="830.1" r="4.5"/><circle cx="126.5" cy="815.6" r="4.5"/><circle cx="126.6" cy="842" r="4.5"/><circle cx="126.5" cy="852.9" r="4.5"/><circle cx="127.4" cy="828.1" r="4.5"/><circle cx="124.5" cy="800" r="4.5"/><circle cx="125" cy="826.2" r="4.5"/><circle cx="125.1" cy="839.2" r="4.5"/><circle cx="126.9" cy="843.5" r="4.5"/><circle cx="125.2" cy="828.2" r="4.5"/><circle cx="127.4" cy="840.4" r="4.5"/><circle cx="125.7" cy="781.4" r="4.5"/><circle cx="127" cy="839.1" r="4.5"/><circle cx="125.9" cy="854.6" r="4.5"/><circle cx="127.3" cy="795.4" r="4.5"/><circle cx="130" cy="770" r="4.5"/><circle cx="130" cy="874" r="4.5"/><circle cx="129.8" cy="834.9" r="4.5"/><circle cx="128.6" cy="820.3" r="4.5"/><circle cx="131.1" cy="798.1" r="4.5"/><circle cx="130.3" cy="841" r="4.5"/><circle cx="130.9" cy="856.4" r="4.5"/><circle cx="130.5" cy="847.8" r="4.5"/><circle cx="128.8" cy="795.1" r="4.5"/><circle cx="131.2" cy="831" r="4.5"/><circle cx="129.3" cy="809.2" r="4.5"/><circle cx="129.8" cy="809" r="4.5"/><circle cx="128.7" cy="823.4" r="4.5"/><circle cx="129.6" cy="776" r="4.5"/><circle cx="131" cy="788.3" r="4.5"/><circle cx="128.7" cy="871.9" r="4.5"/><circle cx="131" cy="793.6" r="4.5"/><circle cx="131.1" cy="859.9" r="4.5"/><circle cx="129.1" cy="850.2" r="4.5"/><circle cx="128.8" cy="854.4" r="4.5"/><circle cx="129.6" cy="795.6" r="4.5"/><circle cx="131.3" cy="812.9" r="4.5"/><circle cx="130.4" cy="810.7" r="4.5"/><circle cx="131.1" cy="856.1" r="4.5"/><circle cx="131.2" cy="828.8" r="4.5"/><circle cx="131" cy="818" r="4.5"/><circle cx="131.5" cy="831.7" r="4.5"/><circle cx="128.9" cy="826.5" r="4.5"/><circle cx="130.7" cy="797.2" r="4.5"/><circle cx="130.8" cy="842" r="4.5"/><circle cx="130.7" cy="830.6" r="4.5"/><circle cx="129.9" cy="830.3" r="4.5"/><circle cx="134" cy="759" r="4.5"/><circle cx="134" cy="874" r="4.5"/><circle cx="133.9" cy="822.3" r="4.5"/><circle cx="133.9" cy="786.5" r="4.5"/><circle cx="133.5" cy="821.6" r="4.5"/><circle cx="133.1" cy="824.7" r="4.5"/><circle cx="132.6" cy="782.8" r="4.5"/><circle cx="133.3" cy="763.7" r="4.5"/><circle cx="132.6" cy="814.5" r="4.5"/><circle cx="134.3" cy="833.3" r="4.5"/><circle cx="135.3" cy="804.6" r="4.5"/><circle cx="134.3" cy="773.5" r="4.5"/><circle cx="133.3" cy="765.6" r="4.5"/><circle cx="135.2" cy="846.5" r="4.5"/><circle cx="134.6" cy="863.6" r="4.5"/><circle cx="134.7" cy="869.2" r="4.5"/><circle cx="134.9" cy="775.9" r="4.5"/><circle cx="133.6" cy="804.4" r="4.5"/><circle cx="134.1" cy="847.6" r="4.5"/><circle cx="134.5" cy="808.1" r="4.5"/><circle cx="134.6" cy="867.7" r="4.5"/><circle cx="132.7" cy="774.1" r="4.5"/><circle cx="133.4" cy="779.1" r="4.5"/><circle cx="134.9" cy="854.7" r="4.5"/><circle cx="133.1" cy="766.3" r="4.5"/><circle cx="133.8" cy="780.8" r="4.5"/><circle cx="134.3" cy="868" r="4.5"/><circle cx="133.9" cy="824.6" r="4.5"/><circle cx="134.4" cy="771.8" r="4.5"/><circle cx="135.4" cy="774.4" r="4.5"/><circle cx="133.5" cy="827" r="4.5"/><circle cx="134" cy="760.9" r="4.5"/><circle cx="133.4" cy="835.8" r="4.5"/><circle cx="133.5" cy="765.1" r="4.5"/><circle cx="134.7" cy="769.4" r="4.5"/><circle cx="139" cy="770" r="4.5"/><circle cx="139" cy="874" r="4.5"/><circle cx="138.1" cy="788" r="4.5"/><circle cx="140.5" cy="830.1" r="4.5"/><circle cx="138.9" cy="845.8" r="4.5"/><circle cx="139.3" cy="866" r="4.5"/><circle cx="138.1" cy="799.6" r="4.5"/><circle cx="139.1" cy="796.8" r="4.5"/><circle cx="139.5" cy="808.4" r="4.5"/><circle cx="137.6" cy="821.1" r="4.5"/><circle cx="137.9" cy="847.3" r="4.5"/><circle cx="139.7" cy="845.7" r="4.5"/><circle cx="138.1" cy="818.9" r="4.5"/><circle cx="138" cy="843.3" r="4.5"/><circle cx="137.5" cy="854" r="4.5"/><circle cx="140.4" cy="855.4" r="4.5"/><circle cx="139.6" cy="833.3" r="4.5"/><circle cx="138.9" cy="828.8" r="4.5"/><circle cx="139" cy="808" r="4.5"/><circle cx="139.1" cy="783.4" r="4.5"/><circle cx="137.7" cy="800.9" r="4.5"/><circle cx="140.4" cy="834.1" r="4.5"/><circle cx="140.3" cy="844.7" r="4.5"/><circle cx="139.8" cy="822.4" r="4.5"/><circle cx="139.3" cy="773.1" r="4.5"/><circle cx="137.8" cy="771.6" r="4.5"/><circle cx="138.8" cy="774" r="4.5"/><circle cx="138" cy="780.6" r="4.5"/><circle cx="140.3" cy="801" r="4.5"/><circle cx="138.2" cy="854.4" r="4.5"/><circle cx="139.3" cy="803.8" r="4.5"/><circle cx="138.3" cy="863.2" r="4.5"/><circle cx="143" cy="803" r="4.5"/><circle cx="143" cy="874" r="4.5"/><circle cx="142" cy="806.1" r="4.5"/><circle cx="142.7" cy="852.5" r="4.5"/><circle cx="143.6" cy="809.5" r="4.5"/><circle cx="142.8" cy="842.8" r="4.5"/><circle cx="143.7" cy="852.6" r="4.5"/><circle cx="142.8" cy="856.4" r="4.5"/><circle cx="143" cy="811.3" r="4.5"/><circle cx="141.9" cy="811.9" r="4.5"/><circle cx="143.6" cy="804.1" r="4.5"/><circle cx="142.2" cy="873.3" r="4.5"/><circle cx="144" cy="838.7" r="4.5"/><circle cx="141.8" cy="829.6" r="4.5"/><circle cx="142.1" cy="821.2" r="4.5"/><circle cx="143" cy="865.4" r="4.5"/><circle cx="141.9" cy="848.1" r="4.5"/><circle cx="141.9" cy="813.5" r="4.5"/><circle cx="143" cy="860.1" r="4.5"/><circle cx="142.3" cy="847.3" r="4.5"/><circle cx="144.2" cy="844" r="4.5"/><circle cx="142.6" cy="824.5" r="4.5"/><circle cx="148" cy="822" r="4.5"/><circle cx="148" cy="874" r="4.5"/><circle cx="148.7" cy="857" r="4.5"/><circle cx="148.5" cy="856.3" r="4.5"/><circle cx="148.4" cy="847.6" r="4.5"/><circle cx="149.4" cy="827.5" r="4.5"/><circle cx="146.7" cy="847.7" r="4.5"/><circle cx="149.2" cy="844.6" r="4.5"/><circle cx="149.2" cy="844.1" r="4.5"/><circle cx="148.1" cy="860.4" r="4.5"/><circle cx="149.3" cy="848.1" r="4.5"/><circle cx="147.8" cy="871.2" r="4.5"/><circle cx="147.7" cy="854.1" r="4.5"/><circle cx="148.2" cy="852.9" r="4.5"/><circle cx="146.7" cy="855.7" r="4.5"/><circle cx="148.4" cy="868.5" r="4.5"/><circle cx="149.1" cy="856.1" r="4.5"/><circle cx="152" cy="808" r="4.5"/><circle cx="152" cy="874" r="4.5"/><circle cx="152.2" cy="857.1" r="4.5"/><circle cx="151.1" cy="809.2" r="4.5"/><circle cx="152.6" cy="833.9" r="4.5"/><circle cx="151.7" cy="818.1" r="4.5"/><circle cx="151.1" cy="845" r="4.5"/><circle cx="151.7" cy="871" r="4.5"/><circle cx="152.2" cy="828.3" r="4.5"/><circle cx="151.5" cy="809.3" r="4.5"/><circle cx="152.9" cy="808.2" r="4.5"/><circle cx="152.7" cy="812.3" r="4.5"/><circle cx="150.9" cy="824.7" r="4.5"/><circle cx="151.4" cy="816.3" r="4.5"/><circle cx="151.7" cy="812.1" r="4.5"/><circle cx="150.7" cy="814" r="4.5"/><circle cx="151.4" cy="812.7" r="4.5"/><circle cx="152.4" cy="843.9" r="4.5"/><circle cx="153" cy="810.4" r="4.5"/><circle cx="152.4" cy="816.9" r="4.5"/><circle cx="153.4" cy="818.7" r="4.5"/><circle cx="154" cy="777" r="4.5"/><circle cx="154" cy="794" r="4.5"/><circle cx="153.2" cy="793" r="4.5"/><circle cx="155.2" cy="791.1" r="4.5"/><circle cx="152.5" cy="777.7" r="4.5"/><circle cx="152.6" cy="785.9" r="4.5"/><circle cx="155.3" cy="779.5" r="4.5"/><circle cx="156" cy="808" r="4.5"/><circle cx="156" cy="874" r="4.5"/><circle cx="155.5" cy="840.1" r="4.5"/><circle cx="156.2" cy="869.9" r="4.5"/><circle cx="155.4" cy="831.2" r="4.5"/><circle cx="156.6" cy="832.8" r="4.5"/><circle cx="155.5" cy="844.3" r="4.5"/><circle cx="155.1" cy="830.8" r="4.5"/><circle cx="157.4" cy="814.3" r="4.5"/><circle cx="155.1" cy="849.3" r="4.5"/><circle cx="155.4" cy="841.4" r="4.5"/><circle cx="156.6" cy="818.2" r="4.5"/><circle cx="155" cy="822.7" r="4.5"/><circle cx="156.7" cy="848.4" r="4.5"/><circle cx="157.5" cy="830.7" r="4.5"/><circle cx="156" cy="820" r="4.5"/><circle cx="157.4" cy="854.1" r="4.5"/><circle cx="156.4" cy="820.4" r="4.5"/><circle cx="156.9" cy="863.3" r="4.5"/><circle cx="154.9" cy="816.9" r="4.5"/><circle cx="157.1" cy="843.4" r="4.5"/><circle cx="161" cy="827" r="4.5"/><circle cx="161" cy="874" r="4.5"/><circle cx="161.8" cy="871" r="4.5"/><circle cx="161.8" cy="834.5" r="4.5"/><circle cx="160" cy="860.3" r="4.5"/><circle cx="161.4" cy="867.9" r="4.5"/><circle cx="161.7" cy="841.7" r="4.5"/><circle cx="161.3" cy="855.8" r="4.5"/><circle cx="162.4" cy="873" r="4.5"/><circle cx="161" cy="848.3" r="4.5"/><circle cx="161.5" cy="851" r="4.5"/><circle cx="160.8" cy="835.8" r="4.5"/><circle cx="160" cy="852.4" r="4.5"/><circle cx="160.7" cy="851.2" r="4.5"/><circle cx="161.7" cy="834.8" r="4.5"/><circle cx="166" cy="827" r="4.5"/><circle cx="166" cy="874" r="4.5"/><circle cx="165.3" cy="864" r="4.5"/><circle cx="165.4" cy="843.6" r="4.5"/><circle cx="167.2" cy="827.7" r="4.5"/><circle cx="165.6" cy="835.2" r="4.5"/><circle cx="167.4" cy="871" r="4.5"/><circle cx="167.2" cy="850.9" r="4.5"/><circle cx="166.2" cy="855.5" r="4.5"/><circle cx="166.7" cy="864.1" r="4.5"/><circle cx="167.1" cy="855.4" r="4.5"/><circle cx="164.7" cy="860.6" r="4.5"/><circle cx="165.8" cy="851.2" r="4.5"/><circle cx="166.8" cy="870.1" r="4.5"/><circle cx="166.5" cy="856.3" r="4.5"/><circle cx="169.3" cy="808" r="4.5"/><circle cx="169.3" cy="817" r="4.5"/><circle cx="170.8" cy="808.1" r="4.5"/><circle cx="170" cy="808.9" r="4.5"/><circle cx="170" cy="840" r="4.5"/><circle cx="170" cy="874" r="4.5"/><circle cx="170.2" cy="848.7" r="4.5"/><circle cx="169.6" cy="868.3" r="4.5"/><circle cx="169.5" cy="870.7" r="4.5"/><circle cx="170.4" cy="870.7" r="4.5"/><circle cx="170.4" cy="860.7" r="4.5"/><circle cx="170.2" cy="871.2" r="4.5"/><circle cx="168.5" cy="843.8" r="4.5"/><circle cx="169.2" cy="870.3" r="4.5"/><circle cx="171.4" cy="845.9" r="4.5"/><circle cx="169.4" cy="856" r="4.5"/><circle cx="175" cy="846" r="4.5"/><circle cx="175" cy="876" r="4.5"/><circle cx="174.2" cy="852.4" r="4.5"/><circle cx="174.1" cy="870.2" r="4.5"/><circle cx="173.9" cy="864" r="4.5"/><circle cx="176.1" cy="852.6" r="4.5"/><circle cx="174.8" cy="846.5" r="4.5"/><circle cx="173.9" cy="859" r="4.5"/><circle cx="175.4" cy="852.1" r="4.5"/><circle cx="176.3" cy="863.2" r="4.5"/><circle cx="180" cy="846" r="4.5"/><circle cx="180" cy="876" r="4.5"/><circle cx="181.5" cy="860.7" r="4.5"/><circle cx="180.3" cy="866.2" r="4.5"/><circle cx="180.4" cy="863.4" r="4.5"/><circle cx="180.3" cy="853.7" r="4.5"/><circle cx="180.7" cy="868.5" r="4.5"/><circle cx="180.3" cy="856.4" r="4.5"/><circle cx="179.6" cy="854.3" r="4.5"/><circle cx="178.6" cy="862.4" r="4.5"/><circle cx="185.8" cy="803" r="4.5"/><circle cx="185.8" cy="876" r="4.5"/><circle cx="186.9" cy="842.8" r="4.5"/><circle cx="187.2" cy="845.2" r="4.5"/><circle cx="184.4" cy="847.3" r="4.5"/><circle cx="184.4" cy="828.7" r="4.5"/><circle cx="187.3" cy="865.7" r="4.5"/><circle cx="185.5" cy="816.9" r="4.5"/><circle cx="184.5" cy="813.1" r="4.5"/><circle cx="185" cy="865" r="4.5"/><circle cx="185.3" cy="866.3" r="4.5"/><circle cx="187.1" cy="875.4" r="4.5"/><circle cx="185.3" cy="858.7" r="4.5"/><circle cx="186.3" cy="814.1" r="4.5"/><circle cx="186.6" cy="848.5" r="4.5"/><circle cx="184.6" cy="833.6" r="4.5"/><circle cx="185.2" cy="838.2" r="4.5"/><circle cx="185" cy="816.7" r="4.5"/><circle cx="184.3" cy="850.9" r="4.5"/><circle cx="185.2" cy="825.4" r="4.5"/><circle cx="186.2" cy="855.7" r="4.5"/><circle cx="185.5" cy="873.8" r="4.5"/><circle cx="184.8" cy="820" r="4.5"/><circle cx="193" cy="835" r="4.5"/><circle cx="193" cy="874" r="4.5"/><circle cx="193.9" cy="851.1" r="4.5"/><circle cx="191.9" cy="865.8" r="4.5"/><circle cx="191.7" cy="869.1" r="4.5"/><circle cx="192.5" cy="864.6" r="4.5"/><circle cx="192.7" cy="856" r="4.5"/><circle cx="192.4" cy="867.9" r="4.5"/><circle cx="192.6" cy="839.4" r="4.5"/><circle cx="194.3" cy="865.8" r="4.5"/><circle cx="192.5" cy="851.8" r="4.5"/><circle cx="192.7" cy="841.9" r="4.5"/><circle cx="193.9" cy="864.4" r="4.5"/><circle cx="198.8" cy="822" r="4.5"/><circle cx="198.8" cy="874" r="4.5"/><circle cx="199.7" cy="831.3" r="4.5"/><circle cx="198.4" cy="857.3" r="4.5"/><circle cx="197.6" cy="861.4" r="4.5"/><circle cx="198.3" cy="822.1" r="4.5"/><circle cx="198.3" cy="869.4" r="4.5"/><circle cx="198.4" cy="838.6" r="4.5"/><circle cx="197.6" cy="841.9" r="4.5"/><circle cx="197.6" cy="822.6" r="4.5"/><circle cx="199.2" cy="863.4" r="4.5"/><circle cx="198.5" cy="870.8" r="4.5"/><circle cx="198.8" cy="847" r="4.5"/><circle cx="198.7" cy="868.2" r="4.5"/><circle cx="198.8" cy="843.2" r="4.5"/><circle cx="198.2" cy="848.1" r="4.5"/><circle cx="199.1" cy="844.9" r="4.5"/><circle cx="204" cy="835" r="4.5"/><circle cx="204" cy="872" r="4.5"/><circle cx="205.2" cy="836.1" r="4.5"/><circle cx="203.8" cy="838.3" r="4.5"/><circle cx="203.6" cy="866.5" r="4.5"/><circle cx="205.4" cy="847.4" r="4.5"/><circle cx="204.4" cy="843.4" r="4.5"/><circle cx="202.6" cy="835.9" r="4.5"/><circle cx="204.3" cy="856.2" r="4.5"/><circle cx="205" cy="862.7" r="4.5"/><circle cx="203.1" cy="837.6" r="4.5"/><circle cx="204.7" cy="843.8" r="4.5"/><circle cx="209.5" cy="796" r="4.5"/><circle cx="209.5" cy="876" r="4.5"/><circle cx="210.4" cy="840.3" r="4.5"/><circle cx="210.5" cy="810" r="4.5"/><circle cx="209.1" cy="867.2" r="4.5"/><circle cx="208.3" cy="836.4" r="4.5"/><circle cx="209.3" cy="871" r="4.5"/><circle cx="208.6" cy="848.1" r="4.5"/><circle cx="208.5" cy="832.2" r="4.5"/><circle cx="209.1" cy="810.6" r="4.5"/><circle cx="210.2" cy="831.1" r="4.5"/><circle cx="210.2" cy="866.1" r="4.5"/><circle cx="208.4" cy="870.2" r="4.5"/><circle cx="210.9" cy="832.3" r="4.5"/><circle cx="208.1" cy="816.7" r="4.5"/><circle cx="208.3" cy="809.7" r="4.5"/><circle cx="208.8" cy="840.5" r="4.5"/><circle cx="208.3" cy="871.4" r="4.5"/><circle cx="209.4" cy="816.3" r="4.5"/><circle cx="208.1" cy="842.9" r="4.5"/><circle cx="210.4" cy="864.5" r="4.5"/><circle cx="209.9" cy="839.6" r="4.5"/><circle cx="208.1" cy="827.5" r="4.5"/><circle cx="211" cy="810.1" r="4.5"/><circle cx="210.5" cy="847.3" r="4.5"/><circle cx="214" cy="817" r="4.5"/><circle cx="214" cy="836" r="4.5"/><circle cx="214.5" cy="826.1" r="4.5"/><circle cx="213.7" cy="831.8" r="4.5"/><circle cx="214.7" cy="826.8" r="4.5"/><circle cx="212.5" cy="825.3" r="4.5"/><circle cx="213.3" cy="818.5" r="4.5"/><circle cx="221.3" cy="843" r="4.5"/><circle cx="221.3" cy="876" r="4.5"/><circle cx="221.4" cy="855.9" r="4.5"/><circle cx="222.8" cy="852.7" r="4.5"/><circle cx="222.4" cy="848" r="4.5"/><circle cx="221.4" cy="854.7" r="4.5"/><circle cx="219.9" cy="846.2" r="4.5"/><circle cx="221.5" cy="871.6" r="4.5"/><circle cx="219.9" cy="849.4" r="4.5"/><circle cx="222.2" cy="864.2" r="4.5"/><circle cx="221.9" cy="860.7" r="4.5"/><circle cx="240.2" cy="862" r="4.5"/><circle cx="240.2" cy="869" r="4.5"/><circle cx="239.4" cy="865.5" r="4.5"/><circle cx="238.8" cy="868" r="4.5"/><circle cx="248.5" cy="815" r="4.5"/><circle cx="248.5" cy="824" r="4.5"/><circle cx="247" cy="815.4" r="4.5"/><circle cx="248.6" cy="815.8" r="4.5"/></g>
<g fill="#619CFF"><circle cx="345.7" cy="863" r="4.5"/><circle cx="346.2" cy="867.3" r="4.5"/><circle cx="345.8" cy="871.7" r="4.5"/><circle cx="346.1" cy="876" r="4.5"/><circle cx="413.2" cy="850" r="4.5"/><circle cx="414.1" cy="855.7" r="4.5"/><circle cx="413" cy="861.3" r="4.5"/><circle cx="413.6" cy="867" r="4.5"/><circle cx="441.8" cy="851" r="4.5"/><circle cx="442.1" cy="855.8" r="4.5"/><circle cx="442" cy="860.5" r="4.5"/><circle cx="441.6" cy="865.2" r="4.5"/><circle cx="442.8" cy="870" r="4.5"/><circle cx="455.4" cy="853" r="4.5"/><circle cx="455.6" cy="857.7" r="4.5"/><circle cx="454.6" cy="862.3" r="4.5"/><circle cx="455.4" cy="867" r="4.5"/><circle cx="280.2" cy="814" r="4.5"/><circle cx="279.6" cy="818.8" r="4.5"/><circle cx="279.5" cy="823.6" r="4.5"/><circle cx="280.2" cy="828.5" r="4.5"/><circle cx="279.9" cy="833.3" r="4.5"/><circle cx="279.8" cy="838.1" r="4.5"/><circle cx="280.5" cy="842.9" r="4.5"/><circle cx="280.4" cy="847.7" r="4.5"/><circle cx="279.6" cy="852.5" r="4.5"/><circle cx="280.3" cy="857.4" r="4.5"/><circle cx="279.4" cy="862.2" r="4.5"/><circle cx="279.7" cy="867" r="4.5"/><circle cx="248.3" cy="814" r="4.5"/><circle cx="249.1" cy="818.3" r="4.5"/><circle cx="248.5" cy="822.6" r="4.5"/></g>
<g fill="#619CFF"><circle cx="98.7" cy="528.8" r="4.5"/><circle cx="98.7" cy="594.5" r="4.5"/><circle cx="125.5" cy="667.3" r="4.5"/><circle cx="125.5" cy="678.8" r="4.5"/><circle cx="136.1" cy="713.3" r="4.5"/><circle cx="154.8" cy="740" r="4.5"/><circle cx="108.3" cy="749.3" r="4.5"/><circle cx="155" cy="740.8" r="4.5"/><circle cx="208.7" cy="772" r="4.5"/><circle cx="227.1" cy="814.7" r="4.5"/><circle cx="198.6" cy="807.8" r="4.5"/><circle cx="208.9" cy="771.7" r="4.5"/><circle cx="350.2" cy="852.8" r="4.5"/><circle cx="371.8" cy="852.8" r="4.5"/><circle cx="396.2" cy="867.2" r="4.5"/><circle cx="420.7" cy="871.5" r="4.5"/><circle cx="443.7" cy="870" r="4.5"/><circle cx="463" cy="847.6" r="4.5"/><circle cx="474.4" cy="841.3" r="4.5"/><circle cx="478.2" cy="848.5" r="4.5"/><circle cx="478.2" cy="829.8" r="4.5"/><circle cx="485.4" cy="867.2" r="4.5"/><circle cx="498.3" cy="841.3" r="4.5"/><circle cx="501.2" cy="838.4" r="4.5"/><circle cx="499.8" cy="852.8" r="4.5"/><circle cx="508.4" cy="832.1" r="4.5"/><circle cx="508.4" cy="848.5" r="4.5"/><circle cx="508.4" cy="864.3" r="4.5"/><circle cx="543.8" cy="823.2" r="4.5"/><circle cx="542.9" cy="834.1" r="4.5"/><circle cx="542.9" cy="844.8" r="4.5"/><circle cx="547.2" cy="847.1" r="4.5"/><circle cx="557.3" cy="837" r="4.5"/><circle cx="557.3" cy="841.3" r="4.5"/><circle cx="557.3" cy="859.2" r="4.5"/><circle cx="227.6" cy="814" r="4.5"/><circle cx="248" cy="847" r="4.5"/><circle cx="269.4" cy="862.5" r="4.5"/></g>
<g fill="#00BA38"><circle cx="136.1" cy="698.1" r="4.5"/><circle cx="136.1" cy="725.4" r="4.5"/></g>
<polygon fill="#999999" fill-opacity="0.4" points="108.3,828.8 114,830 119.7,831.2 125.5,832.3 131.2,833.4 136.9,834.4 142.6,835.5 148.4,836.4 154.1,837.3 159.8,838.2 165.5,839 171.3,839.7 177,840.5 182.7,841.1 188.4,841.8 194.1,842.4 199.9,843 205.6,843.6 211.3,844.2 217,844.7 222.8,845.3 228.5,845.8 234.2,846.3 239.9,846.9 245.7,847.4 251.4,847.9 257.1,848.4 262.8,848.9 268.6,849.4 274.3,849.9 280,850.4 280,872.6 274.3,871.3 268.6,870 262.8,868.6 257.1,867.3 251.4,866 245.7,864.6 239.9,863.3 234.2,862 228.5,860.7 222.8,859.4 217,858.1 211.3,856.8 205.6,855.6 199.9,854.3 194.1,853.1 188.4,851.9 182.7,850.7 177,849.5 171.3,848.4 165.5,847.4 159.8,846.3 154.1,845.3 148.4,844.4 142.6,843.5 136.9,842.7 131.2,841.9 125.5,841.2 119.7,840.5 114,839.8 108.3,839.2"/>
<line x1="108.3" y1="834" x2="280" y2="861.5" stroke="#F8766D" stroke-width="4.5"/>
<polygon fill="#999999" fill-opacity="0.4" points="108.3,782.1 110.7,782.8 113,783.3 115.4,783.5 117.8,783.6 120.1,783.4 122.5,782.9 124.9,782.1 127.2,781 129.6,779.6 132,777.9 134.3,776 136.7,773.8 139.1,771.3 141.4,768.5 143.8,765.6 146.2,762.5 148.5,759.2 150.9,755.7 153.3,752.1 155.6,748.4 158,744.6 160.4,740.6 162.7,736.6 165.1,732.6 167.5,728.4 169.8,724.2 172.2,719.9 174.6,715.6 176.9,711.3 179.3,706.9 179.3,892.3 176.9,890.3 174.6,888.4 172.2,886.5 169.8,884.6 167.5,882.8 165.1,881 162.7,879.4 160.4,877.8 158,876.2 155.6,874.8 153.3,873.5 150.9,872.3 148.5,871.2 146.2,870.3 143.8,869.6 141.4,869.1 139.1,868.7 136.7,868.6 134.3,868.8 132,869.3 129.6,870 127.2,871 124.9,872.3 122.5,873.9 120.1,875.8 117.8,878 115.4,880.5 113,883.1 110.7,886 108.3,889.1"/>
<line x1="108.3" y1="835.6" x2="179.3" y2="799.6" stroke="#00BA38" stroke-width="4.5"/>
<polygon fill="#999999" fill-opacity="0.4" points="108.3,835.5 123.3,836.5 138.2,837.5 153.2,838.4 168.2,839.4 183.1,840.3 198.1,841.2 213.1,842.1 228,842.9 243,843.7 258,844.5 272.9,845.3 287.9,846.1 302.9,846.8 317.8,847.6 332.8,848.3 347.8,849 362.7,849.7 377.7,850.4 392.7,851.1 407.6,851.7 422.6,852.4 437.6,853.1 452.5,853.7 467.5,854.4 482.5,855.1 497.4,855.7 512.4,856.4 527.4,857 542.3,857.7 557.3,858.3 557.3,871.5 542.3,870.4 527.4,869.2 512.4,868.1 497.4,867 482.5,865.9 467.5,864.8 452.5,863.7 437.6,862.6 422.6,861.5 407.6,860.4 392.7,859.3 377.7,858.2 362.7,857.1 347.8,856.1 332.8,855 317.8,854 302.9,852.9 287.9,851.9 272.9,850.9 258,849.9 243,849 228,848 213.1,847.1 198.1,846.2 183.1,845.3 168.2,844.5 153.2,843.7 138.2,842.9 123.3,842.1 108.3,841.3"/>
<line x1="108.3" y1="838.4" x2="557.3" y2="864.9" stroke="#619CFF" stroke-width="4.5"/>
<rect x="71.3" y="510.8" width="509" height="405.9" fill="none" stroke="#5a5a5a" stroke-width="1.5"/>
<line x1="83.3" y1="916.7" x2="83.3" y2="922.7" stroke="#333" stroke-width="1.5"/>
<line x1="227.5" y1="916.7" x2="227.5" y2="922.7" stroke="#333" stroke-width="1.5"/>
<line x1="371.6" y1="916.7" x2="371.6" y2="922.7" stroke="#333" stroke-width="1.5"/>
<line x1="515.8" y1="916.7" x2="515.8" y2="922.7" stroke="#333" stroke-width="1.5"/>
<line x1="65.3" y1="879.5" x2="71.3" y2="879.5" stroke="#333" stroke-width="1.5"/>
<line x1="65.3" y1="783.1" x2="71.3" y2="783.1" stroke="#333" stroke-width="1.5"/>
<line x1="65.3" y1="686.7" x2="71.3" y2="686.7" stroke="#333" stroke-width="1.5"/>
<line x1="65.3" y1="590.3" x2="71.3" y2="590.3" stroke="#333" stroke-width="1.5"/>
<text x="83.5" y="942.5" class="tl" text-anchor="end">0</text>
<text x="227.7" y="942.5" class="tl" text-anchor="end">2000</text>
<text x="371.8" y="942.5" class="tl" text-anchor="end">4000</text>
<text x="516" y="942.5" class="tl" text-anchor="end">6000</text>
<text x="60" y="887.5" class="tl" text-anchor="end">0.0</text>
<text x="60" y="791.1" class="tl" text-anchor="end">2.5</text>
<text x="60" y="694.7" class="tl" text-anchor="end">5.0</text>
<text x="60" y="598.3" class="tl" text-anchor="end">7.5</text>
<text x="325" y="971" class="at" text-anchor="middle">MAP</text>
<text transform="translate(21.5,715) rotate(-90)" class="at" text-anchor="middle">Fine root P</text>
<text transform="translate(315.4,577.5) scale(1.0,1)" class="an" fill="#FF0000">R<tspan dy="-8.6" font-size="14">2</tspan><tspan dy="8.6">=0.19</tspan></text>
<text transform="translate(414.6,577.5) scale(0.972,1)" class="an" fill="#FF0000"><tspan font-style="italic">P</tspan>&lt;0.01</text>
<text transform="translate(315.4,622.5) scale(1.0,1)" class="an" fill="#00B050">R<tspan dy="-8.6" font-size="14">2</tspan><tspan dy="8.6">=0.03</tspan></text>
<text transform="translate(414.6,622.5) scale(0.972,1)" class="an" fill="#00B050"><tspan font-style="italic">P</tspan>&gt;0.05</text>
<text transform="translate(315.4,667.5) scale(1.0,1)" class="an" fill="#0070C0">R<tspan dy="-8.6" font-size="14">2</tspan><tspan dy="8.6">=0.03</tspan></text>
<text transform="translate(414.6,667.5) scale(0.972,1)" class="an" fill="#0070C0"><tspan font-style="italic">P</tspan>&lt;0.001</text>
</svg></body></html>
